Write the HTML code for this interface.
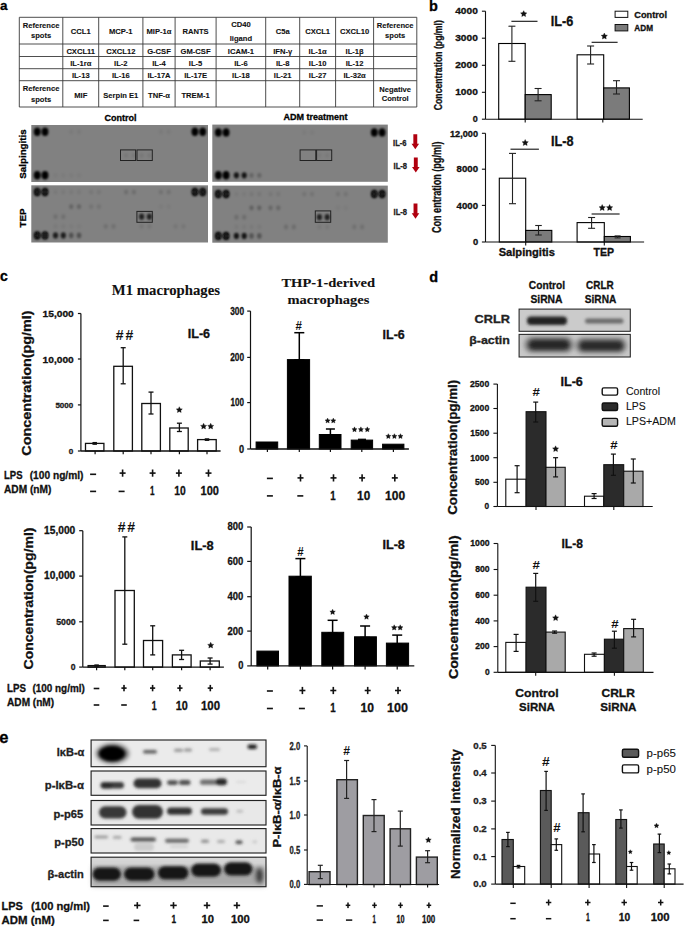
<!DOCTYPE html>
<html><head><meta charset="utf-8"><title>Figure</title>
<style>
html,body{margin:0;padding:0;background:#fff;}
body{width:685px;height:926px;overflow:hidden;}
svg{display:block;font-family:"Liberation Sans", sans-serif;}
</style></head>
<body>
<svg width="685" height="926" viewBox="0 0 685 926">
<defs>
<filter id="blur1" x="-50%" y="-50%" width="200%" height="200%"><feGaussianBlur stdDeviation="0.9"/></filter>
<filter id="blur2" x="-50%" y="-50%" width="200%" height="200%"><feGaussianBlur stdDeviation="2"/></filter>
<filter id="blur3" x="-50%" y="-50%" width="200%" height="200%"><feGaussianBlur stdDeviation="1.6"/></filter>
</defs>
<rect x="0" y="0" width="685" height="926" fill="#fff"/>
<text x="0.00" y="10.30" font-size="13.5" font-weight="bold" text-anchor="start" fill="#000" stroke="#000" stroke-width="0.3" >a</text>
<line x1="19.30" y1="17.30" x2="19.30" y2="107.00" stroke="#3a3a3a" stroke-width="0.9"/>
<line x1="62.80" y1="17.30" x2="62.80" y2="107.00" stroke="#3a3a3a" stroke-width="0.9"/>
<line x1="98.70" y1="17.30" x2="98.70" y2="107.00" stroke="#3a3a3a" stroke-width="0.9"/>
<line x1="142.90" y1="17.30" x2="142.90" y2="107.00" stroke="#3a3a3a" stroke-width="0.9"/>
<line x1="175.10" y1="17.30" x2="175.10" y2="107.00" stroke="#3a3a3a" stroke-width="0.9"/>
<line x1="216.10" y1="17.30" x2="216.10" y2="107.00" stroke="#3a3a3a" stroke-width="0.9"/>
<line x1="265.70" y1="17.30" x2="265.70" y2="107.00" stroke="#3a3a3a" stroke-width="0.9"/>
<line x1="299.70" y1="17.30" x2="299.70" y2="107.00" stroke="#3a3a3a" stroke-width="0.9"/>
<line x1="335.60" y1="17.30" x2="335.60" y2="107.00" stroke="#3a3a3a" stroke-width="0.9"/>
<line x1="373.60" y1="17.30" x2="373.60" y2="107.00" stroke="#3a3a3a" stroke-width="0.9"/>
<line x1="416.80" y1="17.30" x2="416.80" y2="107.00" stroke="#3a3a3a" stroke-width="0.9"/>
<line x1="19.30" y1="17.30" x2="416.80" y2="17.30" stroke="#3a3a3a" stroke-width="0.9"/>
<line x1="19.30" y1="44.00" x2="416.80" y2="44.00" stroke="#3a3a3a" stroke-width="0.9"/>
<line x1="19.30" y1="56.50" x2="416.80" y2="56.50" stroke="#3a3a3a" stroke-width="0.9"/>
<line x1="19.30" y1="68.70" x2="416.80" y2="68.70" stroke="#3a3a3a" stroke-width="0.9"/>
<line x1="19.30" y1="80.70" x2="416.80" y2="80.70" stroke="#3a3a3a" stroke-width="0.9"/>
<line x1="19.30" y1="107.00" x2="416.80" y2="107.00" stroke="#3a3a3a" stroke-width="0.9"/>
<text x="80.75" y="34.20" font-size="7.6" font-weight="bold" text-anchor="middle" fill="#111" stroke="#111" stroke-width="0.1" >CCL1</text>
<text x="120.80" y="34.20" font-size="7.6" font-weight="bold" text-anchor="middle" fill="#111" stroke="#111" stroke-width="0.1" >MCP-1</text>
<text x="159.00" y="34.20" font-size="7.6" font-weight="bold" text-anchor="middle" fill="#111" stroke="#111" stroke-width="0.1" >MIP-1α</text>
<text x="195.60" y="34.20" font-size="7.6" font-weight="bold" text-anchor="middle" fill="#111" stroke="#111" stroke-width="0.1" >RANTS</text>
<text x="282.70" y="34.20" font-size="7.6" font-weight="bold" text-anchor="middle" fill="#111" stroke="#111" stroke-width="0.1" >C5a</text>
<text x="317.65" y="34.20" font-size="7.6" font-weight="bold" text-anchor="middle" fill="#111" stroke="#111" stroke-width="0.1" >CXCL1</text>
<text x="354.60" y="34.20" font-size="7.6" font-weight="bold" text-anchor="middle" fill="#111" stroke="#111" stroke-width="0.1" >CXCL10</text>
<text x="80.75" y="53.70" font-size="7.6" font-weight="bold" text-anchor="middle" fill="#111" stroke="#111" stroke-width="0.1" >CXCL11</text>
<text x="120.80" y="53.70" font-size="7.6" font-weight="bold" text-anchor="middle" fill="#111" stroke="#111" stroke-width="0.1" >CXCL12</text>
<text x="159.00" y="53.70" font-size="7.6" font-weight="bold" text-anchor="middle" fill="#111" stroke="#111" stroke-width="0.1" >G-CSF</text>
<text x="195.60" y="53.70" font-size="7.6" font-weight="bold" text-anchor="middle" fill="#111" stroke="#111" stroke-width="0.1" >GM-CSF</text>
<text x="240.90" y="53.70" font-size="7.6" font-weight="bold" text-anchor="middle" fill="#111" stroke="#111" stroke-width="0.1" >ICAM-1</text>
<text x="282.70" y="53.70" font-size="7.6" font-weight="bold" text-anchor="middle" fill="#111" stroke="#111" stroke-width="0.1" >IFN-γ</text>
<text x="317.65" y="53.70" font-size="7.6" font-weight="bold" text-anchor="middle" fill="#111" stroke="#111" stroke-width="0.1" >IL-1α</text>
<text x="354.60" y="53.70" font-size="7.6" font-weight="bold" text-anchor="middle" fill="#111" stroke="#111" stroke-width="0.1" >IL-1β</text>
<text x="80.75" y="66.00" font-size="7.6" font-weight="bold" text-anchor="middle" fill="#111" stroke="#111" stroke-width="0.1" >IL-1rα</text>
<text x="120.80" y="66.00" font-size="7.6" font-weight="bold" text-anchor="middle" fill="#111" stroke="#111" stroke-width="0.1" >IL-2</text>
<text x="159.00" y="66.00" font-size="7.6" font-weight="bold" text-anchor="middle" fill="#111" stroke="#111" stroke-width="0.1" >IL-4</text>
<text x="195.60" y="66.00" font-size="7.6" font-weight="bold" text-anchor="middle" fill="#111" stroke="#111" stroke-width="0.1" >IL-5</text>
<text x="240.90" y="66.00" font-size="7.6" font-weight="bold" text-anchor="middle" fill="#111" stroke="#111" stroke-width="0.1" >IL-6</text>
<text x="282.70" y="66.00" font-size="7.6" font-weight="bold" text-anchor="middle" fill="#111" stroke="#111" stroke-width="0.1" >IL-8</text>
<text x="317.65" y="66.00" font-size="7.6" font-weight="bold" text-anchor="middle" fill="#111" stroke="#111" stroke-width="0.1" >IL-10</text>
<text x="354.60" y="66.00" font-size="7.6" font-weight="bold" text-anchor="middle" fill="#111" stroke="#111" stroke-width="0.1" >IL-12</text>
<text x="80.75" y="78.10" font-size="7.6" font-weight="bold" text-anchor="middle" fill="#111" stroke="#111" stroke-width="0.1" >IL-13</text>
<text x="120.80" y="78.10" font-size="7.6" font-weight="bold" text-anchor="middle" fill="#111" stroke="#111" stroke-width="0.1" >IL-16</text>
<text x="159.00" y="78.10" font-size="7.6" font-weight="bold" text-anchor="middle" fill="#111" stroke="#111" stroke-width="0.1" >IL-17A</text>
<text x="195.60" y="78.10" font-size="7.6" font-weight="bold" text-anchor="middle" fill="#111" stroke="#111" stroke-width="0.1" >IL-17E</text>
<text x="240.90" y="78.10" font-size="7.6" font-weight="bold" text-anchor="middle" fill="#111" stroke="#111" stroke-width="0.1" >IL-18</text>
<text x="282.70" y="78.10" font-size="7.6" font-weight="bold" text-anchor="middle" fill="#111" stroke="#111" stroke-width="0.1" >IL-21</text>
<text x="317.65" y="78.10" font-size="7.6" font-weight="bold" text-anchor="middle" fill="#111" stroke="#111" stroke-width="0.1" >IL-27</text>
<text x="354.60" y="78.10" font-size="7.6" font-weight="bold" text-anchor="middle" fill="#111" stroke="#111" stroke-width="0.1" >IL-32α</text>
<text x="80.75" y="97.60" font-size="7.6" font-weight="bold" text-anchor="middle" fill="#111" stroke="#111" stroke-width="0.1" >MIF</text>
<text x="120.80" y="97.60" font-size="7.6" font-weight="bold" text-anchor="middle" fill="#111" stroke="#111" stroke-width="0.1" >Serpin E1</text>
<text x="159.00" y="97.60" font-size="7.6" font-weight="bold" text-anchor="middle" fill="#111" stroke="#111" stroke-width="0.1" >TNF-α</text>
<text x="195.60" y="97.60" font-size="7.6" font-weight="bold" text-anchor="middle" fill="#111" stroke="#111" stroke-width="0.1" >TREM-1</text>
<text x="41.05" y="28.20" font-size="7.6" font-weight="bold" text-anchor="middle" fill="#111" stroke="#111" stroke-width="0.1" >Reference</text>
<text x="41.05" y="37.90" font-size="7.6" font-weight="bold" text-anchor="middle" fill="#111" stroke="#111" stroke-width="0.1" >spots</text>
<text x="395.20" y="27.90" font-size="7.6" font-weight="bold" text-anchor="middle" fill="#111" stroke="#111" stroke-width="0.1" >Reference</text>
<text x="395.20" y="37.90" font-size="7.6" font-weight="bold" text-anchor="middle" fill="#111" stroke="#111" stroke-width="0.1" >spots</text>
<text x="240.90" y="27.00" font-size="7.6" font-weight="bold" text-anchor="middle" fill="#111" stroke="#111" stroke-width="0.1" >CD40</text>
<text x="240.90" y="41.40" font-size="7.6" font-weight="bold" text-anchor="middle" fill="#111" stroke="#111" stroke-width="0.1" >ligand</text>
<text x="41.05" y="91.40" font-size="7.6" font-weight="bold" text-anchor="middle" fill="#111" stroke="#111" stroke-width="0.1" >Reference</text>
<text x="41.05" y="101.70" font-size="7.6" font-weight="bold" text-anchor="middle" fill="#111" stroke="#111" stroke-width="0.1" >spots</text>
<text x="395.20" y="92.00" font-size="7.6" font-weight="bold" text-anchor="middle" fill="#111" stroke="#111" stroke-width="0.1" >Negative</text>
<text x="395.20" y="101.40" font-size="7.6" font-weight="bold" text-anchor="middle" fill="#111" stroke="#111" stroke-width="0.1" >Control</text>
<text x="120.40" y="120.80" font-size="9" font-weight="bold" text-anchor="middle" fill="#000" stroke="#000" stroke-width="0.3" >Control</text>
<text x="315.50" y="120.00" font-size="9" font-weight="bold" text-anchor="middle" fill="#000" stroke="#000" stroke-width="0.3" >ADM treatment</text>
<text x="26.00" y="154.00" font-size="9.8" font-weight="bold" text-anchor="middle" fill="#000" stroke="#000" stroke-width="0.3" transform="rotate(-90 26.00 154.00)" >Salpingitis</text>
<text x="26.00" y="218.00" font-size="9.8" font-weight="bold" text-anchor="middle" fill="#000" stroke="#000" stroke-width="0.3" transform="rotate(-90 26.00 218.00)" >TEP</text>
<rect x="31.30" y="125.00" width="176.70" height="57.00" fill="#818181" stroke="none" stroke-width="0" />
<rect x="212.30" y="124.60" width="175.50" height="57.20" fill="#818181" stroke="none" stroke-width="0" />
<rect x="31.30" y="185.30" width="176.70" height="57.20" fill="#818181" stroke="none" stroke-width="0" />
<rect x="212.30" y="185.60" width="175.50" height="57.10" fill="#818181" stroke="none" stroke-width="0" />
<g filter="url(#blur1)">
<ellipse cx="37.20" cy="131.80" rx="3.40" ry="4.20" fill="#050505" fill-opacity="1.0"/>
<ellipse cx="45.00" cy="131.80" rx="3.40" ry="4.20" fill="#050505" fill-opacity="1.0"/>
<ellipse cx="194.90" cy="131.80" rx="3.40" ry="4.20" fill="#050505" fill-opacity="1.0"/>
<ellipse cx="202.70" cy="131.80" rx="3.40" ry="4.20" fill="#050505" fill-opacity="1.0"/>
<ellipse cx="37.20" cy="175.30" rx="3.40" ry="4.20" fill="#050505" fill-opacity="1.0"/>
<ellipse cx="45.00" cy="175.30" rx="3.40" ry="4.20" fill="#050505" fill-opacity="1.0"/>
<ellipse cx="71.20" cy="131.80" rx="2.20" ry="2.60" fill="#050505" fill-opacity="0.05"/>
<ellipse cx="79.00" cy="131.80" rx="2.20" ry="2.60" fill="#050505" fill-opacity="0.05"/>
<ellipse cx="160.90" cy="131.80" rx="2.20" ry="2.60" fill="#050505" fill-opacity="0.05"/>
<ellipse cx="168.70" cy="131.80" rx="2.20" ry="2.60" fill="#050505" fill-opacity="0.05"/>
<ellipse cx="55.50" cy="175.30" rx="2.20" ry="2.60" fill="#050505" fill-opacity="0.04"/>
<ellipse cx="63.30" cy="175.30" rx="2.20" ry="2.60" fill="#050505" fill-opacity="0.04"/>
<ellipse cx="71.20" cy="175.30" rx="2.20" ry="2.60" fill="#050505" fill-opacity="0.04"/>
<ellipse cx="79.00" cy="175.30" rx="2.20" ry="2.60" fill="#050505" fill-opacity="0.04"/>
<ellipse cx="126.10" cy="155.30" rx="2.20" ry="2.60" fill="#050505" fill-opacity="0.07"/>
<ellipse cx="133.90" cy="155.30" rx="2.20" ry="2.60" fill="#050505" fill-opacity="0.07"/>
<ellipse cx="141.60" cy="155.30" rx="2.20" ry="2.60" fill="#050505" fill-opacity="0.07"/>
<ellipse cx="149.40" cy="155.30" rx="2.20" ry="2.60" fill="#050505" fill-opacity="0.07"/>
<ellipse cx="218.30" cy="132.40" rx="3.40" ry="4.20" fill="#050505" fill-opacity="1.0"/>
<ellipse cx="226.10" cy="132.40" rx="3.40" ry="4.20" fill="#050505" fill-opacity="1.0"/>
<ellipse cx="374.30" cy="132.40" rx="3.40" ry="4.20" fill="#050505" fill-opacity="1.0"/>
<ellipse cx="382.10" cy="132.40" rx="3.40" ry="4.20" fill="#050505" fill-opacity="1.0"/>
<ellipse cx="218.30" cy="175.30" rx="3.40" ry="4.20" fill="#050505" fill-opacity="1.0"/>
<ellipse cx="226.10" cy="175.30" rx="3.40" ry="4.20" fill="#050505" fill-opacity="1.0"/>
<ellipse cx="236.40" cy="175.30" rx="2.60" ry="3.10" fill="#050505" fill-opacity="0.85"/>
<ellipse cx="244.20" cy="175.30" rx="2.60" ry="3.10" fill="#050505" fill-opacity="0.85"/>
<ellipse cx="251.50" cy="175.30" rx="2.20" ry="2.60" fill="#050505" fill-opacity="0.22"/>
<ellipse cx="259.30" cy="175.30" rx="2.20" ry="2.60" fill="#050505" fill-opacity="0.22"/>
<ellipse cx="319.40" cy="155.30" rx="2.20" ry="2.60" fill="#050505" fill-opacity="0.05"/>
<ellipse cx="327.20" cy="155.30" rx="2.20" ry="2.60" fill="#050505" fill-opacity="0.05"/>
<ellipse cx="304.30" cy="132.40" rx="2.20" ry="2.60" fill="#050505" fill-opacity="0.04"/>
<ellipse cx="312.10" cy="132.40" rx="2.20" ry="2.60" fill="#050505" fill-opacity="0.04"/>
<ellipse cx="37.20" cy="192.00" rx="3.40" ry="4.20" fill="#050505" fill-opacity="1.0"/>
<ellipse cx="37.20" cy="192.00" rx="1.20" ry="1.90" fill="#3a3a3a" fill-opacity="0.8"/>
<ellipse cx="45.00" cy="192.00" rx="3.40" ry="4.20" fill="#050505" fill-opacity="1.0"/>
<ellipse cx="45.00" cy="192.00" rx="1.20" ry="1.90" fill="#3a3a3a" fill-opacity="0.8"/>
<ellipse cx="194.90" cy="192.00" rx="3.40" ry="4.20" fill="#050505" fill-opacity="1.0"/>
<ellipse cx="194.90" cy="192.00" rx="1.20" ry="1.90" fill="#3a3a3a" fill-opacity="0.8"/>
<ellipse cx="202.70" cy="192.00" rx="3.40" ry="4.20" fill="#050505" fill-opacity="1.0"/>
<ellipse cx="202.70" cy="192.00" rx="1.20" ry="1.90" fill="#3a3a3a" fill-opacity="0.8"/>
<ellipse cx="37.20" cy="235.40" rx="3.40" ry="4.20" fill="#050505" fill-opacity="1.0"/>
<ellipse cx="37.20" cy="235.40" rx="1.20" ry="1.90" fill="#3a3a3a" fill-opacity="0.8"/>
<ellipse cx="45.00" cy="235.40" rx="3.40" ry="4.20" fill="#050505" fill-opacity="1.0"/>
<ellipse cx="45.00" cy="235.40" rx="1.20" ry="1.90" fill="#3a3a3a" fill-opacity="0.8"/>
<ellipse cx="55.50" cy="235.40" rx="2.60" ry="3.10" fill="#050505" fill-opacity="0.78"/>
<ellipse cx="63.30" cy="235.40" rx="2.60" ry="3.10" fill="#050505" fill-opacity="0.78"/>
<ellipse cx="71.20" cy="235.40" rx="2.30" ry="2.80" fill="#050505" fill-opacity="0.38"/>
<ellipse cx="79.00" cy="235.40" rx="2.30" ry="2.80" fill="#050505" fill-opacity="0.38"/>
<ellipse cx="55.50" cy="192.00" rx="2.20" ry="2.60" fill="#050505" fill-opacity="0.06"/>
<ellipse cx="63.30" cy="192.00" rx="2.20" ry="2.60" fill="#050505" fill-opacity="0.06"/>
<ellipse cx="71.20" cy="192.00" rx="2.20" ry="2.60" fill="#050505" fill-opacity="0.06"/>
<ellipse cx="79.00" cy="192.00" rx="2.20" ry="2.60" fill="#050505" fill-opacity="0.06"/>
<ellipse cx="91.10" cy="192.00" rx="2.20" ry="2.60" fill="#050505" fill-opacity="0.08"/>
<ellipse cx="98.90" cy="192.00" rx="2.20" ry="2.60" fill="#050505" fill-opacity="0.08"/>
<ellipse cx="126.10" cy="192.00" rx="2.20" ry="2.60" fill="#050505" fill-opacity="0.15"/>
<ellipse cx="133.90" cy="192.00" rx="2.20" ry="2.60" fill="#050505" fill-opacity="0.15"/>
<ellipse cx="160.90" cy="192.00" rx="2.20" ry="2.60" fill="#050505" fill-opacity="0.12"/>
<ellipse cx="168.70" cy="192.00" rx="2.20" ry="2.60" fill="#050505" fill-opacity="0.12"/>
<ellipse cx="71.20" cy="206.60" rx="2.20" ry="2.60" fill="#050505" fill-opacity="0.22"/>
<ellipse cx="79.00" cy="206.60" rx="2.20" ry="2.60" fill="#050505" fill-opacity="0.22"/>
<ellipse cx="91.10" cy="206.60" rx="2.20" ry="2.60" fill="#050505" fill-opacity="0.1"/>
<ellipse cx="98.90" cy="206.60" rx="2.20" ry="2.60" fill="#050505" fill-opacity="0.1"/>
<ellipse cx="160.90" cy="206.60" rx="2.20" ry="2.60" fill="#050505" fill-opacity="0.04"/>
<ellipse cx="168.70" cy="206.60" rx="2.20" ry="2.60" fill="#050505" fill-opacity="0.04"/>
<ellipse cx="55.50" cy="216.70" rx="2.20" ry="2.60" fill="#050505" fill-opacity="0.13"/>
<ellipse cx="63.30" cy="216.70" rx="2.20" ry="2.60" fill="#050505" fill-opacity="0.13"/>
<ellipse cx="141.60" cy="216.70" rx="2.60" ry="3.10" fill="#050505" fill-opacity="0.75"/>
<ellipse cx="149.40" cy="216.70" rx="2.60" ry="3.10" fill="#050505" fill-opacity="0.75"/>
<ellipse cx="55.50" cy="226.30" rx="2.20" ry="2.60" fill="#050505" fill-opacity="0.05"/>
<ellipse cx="63.30" cy="226.30" rx="2.20" ry="2.60" fill="#050505" fill-opacity="0.05"/>
<ellipse cx="71.20" cy="226.30" rx="2.20" ry="2.60" fill="#050505" fill-opacity="0.04"/>
<ellipse cx="79.00" cy="226.30" rx="2.20" ry="2.60" fill="#050505" fill-opacity="0.04"/>
<ellipse cx="105.70" cy="226.30" rx="2.20" ry="2.60" fill="#050505" fill-opacity="0.12"/>
<ellipse cx="113.50" cy="226.30" rx="2.20" ry="2.60" fill="#050505" fill-opacity="0.12"/>
<ellipse cx="141.60" cy="226.30" rx="2.20" ry="2.60" fill="#050505" fill-opacity="0.08"/>
<ellipse cx="149.40" cy="226.30" rx="2.20" ry="2.60" fill="#050505" fill-opacity="0.08"/>
<ellipse cx="175.60" cy="226.30" rx="2.20" ry="2.60" fill="#050505" fill-opacity="0.08"/>
<ellipse cx="183.40" cy="226.30" rx="2.20" ry="2.60" fill="#050505" fill-opacity="0.08"/>
<ellipse cx="218.30" cy="194.00" rx="3.40" ry="4.20" fill="#050505" fill-opacity="1.0"/>
<ellipse cx="218.30" cy="194.00" rx="1.20" ry="1.90" fill="#3a3a3a" fill-opacity="0.8"/>
<ellipse cx="226.10" cy="194.00" rx="3.40" ry="4.20" fill="#050505" fill-opacity="1.0"/>
<ellipse cx="226.10" cy="194.00" rx="1.20" ry="1.90" fill="#3a3a3a" fill-opacity="0.8"/>
<ellipse cx="374.30" cy="194.00" rx="3.40" ry="4.20" fill="#050505" fill-opacity="1.0"/>
<ellipse cx="374.30" cy="194.00" rx="1.20" ry="1.90" fill="#3a3a3a" fill-opacity="0.8"/>
<ellipse cx="382.10" cy="194.00" rx="3.40" ry="4.20" fill="#050505" fill-opacity="1.0"/>
<ellipse cx="382.10" cy="194.00" rx="1.20" ry="1.90" fill="#3a3a3a" fill-opacity="0.8"/>
<ellipse cx="218.30" cy="235.90" rx="3.40" ry="4.20" fill="#050505" fill-opacity="1.0"/>
<ellipse cx="218.30" cy="235.90" rx="1.20" ry="1.90" fill="#3a3a3a" fill-opacity="0.8"/>
<ellipse cx="226.10" cy="235.90" rx="3.40" ry="4.20" fill="#050505" fill-opacity="1.0"/>
<ellipse cx="226.10" cy="235.90" rx="1.20" ry="1.90" fill="#3a3a3a" fill-opacity="0.8"/>
<ellipse cx="236.40" cy="235.90" rx="2.60" ry="3.10" fill="#050505" fill-opacity="0.85"/>
<ellipse cx="244.20" cy="235.90" rx="2.60" ry="3.10" fill="#050505" fill-opacity="0.85"/>
<ellipse cx="251.50" cy="235.90" rx="2.30" ry="2.80" fill="#050505" fill-opacity="0.35"/>
<ellipse cx="259.30" cy="235.90" rx="2.30" ry="2.80" fill="#050505" fill-opacity="0.35"/>
<ellipse cx="236.40" cy="194.00" rx="2.20" ry="2.60" fill="#050505" fill-opacity="0.05"/>
<ellipse cx="244.20" cy="194.00" rx="2.20" ry="2.60" fill="#050505" fill-opacity="0.05"/>
<ellipse cx="251.50" cy="194.00" rx="2.20" ry="2.60" fill="#050505" fill-opacity="0.08"/>
<ellipse cx="259.30" cy="194.00" rx="2.20" ry="2.60" fill="#050505" fill-opacity="0.08"/>
<ellipse cx="270.50" cy="194.00" rx="2.20" ry="2.60" fill="#050505" fill-opacity="0.08"/>
<ellipse cx="278.30" cy="194.00" rx="2.20" ry="2.60" fill="#050505" fill-opacity="0.08"/>
<ellipse cx="304.30" cy="194.00" rx="2.20" ry="2.60" fill="#050505" fill-opacity="0.1"/>
<ellipse cx="312.10" cy="194.00" rx="2.20" ry="2.60" fill="#050505" fill-opacity="0.1"/>
<ellipse cx="338.00" cy="194.00" rx="2.20" ry="2.60" fill="#050505" fill-opacity="0.1"/>
<ellipse cx="345.80" cy="194.00" rx="2.20" ry="2.60" fill="#050505" fill-opacity="0.1"/>
<ellipse cx="251.50" cy="207.80" rx="2.20" ry="2.60" fill="#050505" fill-opacity="0.25"/>
<ellipse cx="259.30" cy="207.80" rx="2.20" ry="2.60" fill="#050505" fill-opacity="0.25"/>
<ellipse cx="270.50" cy="207.80" rx="2.20" ry="2.60" fill="#050505" fill-opacity="0.2"/>
<ellipse cx="278.30" cy="207.80" rx="2.20" ry="2.60" fill="#050505" fill-opacity="0.2"/>
<ellipse cx="338.00" cy="207.80" rx="2.20" ry="2.60" fill="#050505" fill-opacity="0.04"/>
<ellipse cx="345.80" cy="207.80" rx="2.20" ry="2.60" fill="#050505" fill-opacity="0.04"/>
<ellipse cx="236.40" cy="217.20" rx="2.20" ry="2.60" fill="#050505" fill-opacity="0.15"/>
<ellipse cx="244.20" cy="217.20" rx="2.20" ry="2.60" fill="#050505" fill-opacity="0.15"/>
<ellipse cx="319.40" cy="217.20" rx="2.60" ry="3.10" fill="#050505" fill-opacity="0.75"/>
<ellipse cx="327.20" cy="217.20" rx="2.60" ry="3.10" fill="#050505" fill-opacity="0.75"/>
<ellipse cx="236.40" cy="226.90" rx="2.20" ry="2.60" fill="#050505" fill-opacity="0.05"/>
<ellipse cx="244.20" cy="226.90" rx="2.20" ry="2.60" fill="#050505" fill-opacity="0.05"/>
<ellipse cx="251.50" cy="226.90" rx="2.20" ry="2.60" fill="#050505" fill-opacity="0.05"/>
<ellipse cx="259.30" cy="226.90" rx="2.20" ry="2.60" fill="#050505" fill-opacity="0.05"/>
<ellipse cx="286.00" cy="226.90" rx="2.20" ry="2.60" fill="#050505" fill-opacity="0.15"/>
<ellipse cx="293.80" cy="226.90" rx="2.20" ry="2.60" fill="#050505" fill-opacity="0.15"/>
<ellipse cx="319.40" cy="226.90" rx="2.20" ry="2.60" fill="#050505" fill-opacity="0.06"/>
<ellipse cx="327.20" cy="226.90" rx="2.20" ry="2.60" fill="#050505" fill-opacity="0.06"/>
<ellipse cx="354.30" cy="226.90" rx="2.20" ry="2.60" fill="#050505" fill-opacity="0.12"/>
<ellipse cx="362.10" cy="226.90" rx="2.20" ry="2.60" fill="#050505" fill-opacity="0.12"/>
</g>
<rect x="120.50" y="149.90" width="15.10" height="10.60" fill="none" stroke="#222" stroke-width="1" />
<rect x="137.00" y="149.90" width="15.30" height="10.60" fill="none" stroke="#222" stroke-width="1" />
<rect x="300.10" y="149.90" width="15.70" height="10.60" fill="none" stroke="#222" stroke-width="1" />
<rect x="316.60" y="149.90" width="15.10" height="10.60" fill="none" stroke="#222" stroke-width="1" />
<rect x="136.90" y="211.40" width="15.40" height="10.90" fill="none" stroke="#222" stroke-width="1" />
<rect x="315.30" y="210.90" width="15.40" height="11.40" fill="none" stroke="#222" stroke-width="1" />
<text x="393.10" y="145.50" font-size="8.2" font-weight="bold" text-anchor="start" fill="#222" stroke="#222" stroke-width="0.3" textLength="13.50" lengthAdjust="spacingAndGlyphs" >IL-6</text>
<text x="393.60" y="168.70" font-size="8.2" font-weight="bold" text-anchor="start" fill="#222" stroke="#222" stroke-width="0.3" textLength="13.50" lengthAdjust="spacingAndGlyphs" >IL-8</text>
<text x="393.60" y="214.60" font-size="8.2" font-weight="bold" text-anchor="start" fill="#222" stroke="#222" stroke-width="0.3" textLength="13.50" lengthAdjust="spacingAndGlyphs" >IL-8</text>
<path d="M413.35,134.20 L417.25,134.20 L417.25,143.80 L419.10,143.80 L415.30,149.30 L411.50,143.80 L413.35,143.80 Z" fill="#b0000f"/>
<path d="M413.85,157.40 L417.75,157.40 L417.75,167.00 L419.60,167.00 L415.80,172.50 L412.00,167.00 L413.85,167.00 Z" fill="#b0000f"/>
<path d="M413.55,203.60 L417.45,203.60 L417.45,213.20 L419.30,213.20 L415.50,218.70 L411.70,213.20 L413.55,213.20 Z" fill="#b0000f"/>
<text x="429.00" y="11.00" font-size="14.5" font-weight="bold" text-anchor="start" fill="#000" stroke="#000" stroke-width="0.3" >b</text>
<line x1="485.50" y1="11.20" x2="485.50" y2="119.20" stroke="#111" stroke-width="1.1"/>
<line x1="481.90" y1="11.20" x2="485.50" y2="11.20" stroke="#111" stroke-width="1.1"/>
<text x="455.20" y="14.30" font-size="8.6" font-weight="bold" text-anchor="start" fill="#111" stroke="#111" stroke-width="0.3" textLength="22.60" lengthAdjust="spacingAndGlyphs" >4000</text>
<line x1="481.90" y1="38.20" x2="485.50" y2="38.20" stroke="#111" stroke-width="1.1"/>
<text x="455.20" y="41.30" font-size="8.6" font-weight="bold" text-anchor="start" fill="#111" stroke="#111" stroke-width="0.3" textLength="22.60" lengthAdjust="spacingAndGlyphs" >3000</text>
<line x1="481.90" y1="65.30" x2="485.50" y2="65.30" stroke="#111" stroke-width="1.1"/>
<text x="455.20" y="68.40" font-size="8.6" font-weight="bold" text-anchor="start" fill="#111" stroke="#111" stroke-width="0.3" textLength="22.60" lengthAdjust="spacingAndGlyphs" >2000</text>
<line x1="481.90" y1="92.30" x2="485.50" y2="92.30" stroke="#111" stroke-width="1.1"/>
<text x="455.20" y="95.40" font-size="8.6" font-weight="bold" text-anchor="start" fill="#111" stroke="#111" stroke-width="0.3" textLength="22.60" lengthAdjust="spacingAndGlyphs" >1000</text>
<line x1="481.90" y1="119.20" x2="485.50" y2="119.20" stroke="#111" stroke-width="1.1"/>
<text x="472.80" y="122.30" font-size="8.6" font-weight="bold" text-anchor="start" fill="#111" stroke="#111" stroke-width="0.3" textLength="5.00" lengthAdjust="spacingAndGlyphs" >0</text>
<rect x="498.70" y="43.50" width="26.50" height="75.70" fill="#fff" stroke="#000" stroke-width="1.1" />
<rect x="525.20" y="94.60" width="26.00" height="24.60" fill="#7b7b7b" stroke="#000" stroke-width="1.1" />
<rect x="577.10" y="54.80" width="26.60" height="64.40" fill="#fff" stroke="#000" stroke-width="1.1" />
<rect x="603.70" y="87.90" width="25.70" height="31.30" fill="#7b7b7b" stroke="#000" stroke-width="1.1" />
<line x1="511.90" y1="26.20" x2="511.90" y2="61.30" stroke="#222" stroke-width="1.1"/>
<line x1="508.40" y1="26.20" x2="515.40" y2="26.20" stroke="#222" stroke-width="1.1"/>
<line x1="508.40" y1="61.30" x2="515.40" y2="61.30" stroke="#222" stroke-width="1.1"/>
<line x1="538.10" y1="88.50" x2="538.10" y2="100.80" stroke="#222" stroke-width="1.1"/>
<line x1="534.60" y1="88.50" x2="541.60" y2="88.50" stroke="#222" stroke-width="1.1"/>
<line x1="534.60" y1="100.80" x2="541.60" y2="100.80" stroke="#222" stroke-width="1.1"/>
<line x1="590.60" y1="46.00" x2="590.60" y2="64.00" stroke="#222" stroke-width="1.1"/>
<line x1="587.10" y1="46.00" x2="594.10" y2="46.00" stroke="#222" stroke-width="1.1"/>
<line x1="587.10" y1="64.00" x2="594.10" y2="64.00" stroke="#222" stroke-width="1.1"/>
<line x1="616.50" y1="80.70" x2="616.50" y2="94.00" stroke="#222" stroke-width="1.1"/>
<line x1="613.00" y1="80.70" x2="620.00" y2="80.70" stroke="#222" stroke-width="1.1"/>
<line x1="613.00" y1="94.00" x2="620.00" y2="94.00" stroke="#222" stroke-width="1.1"/>
<line x1="485.50" y1="119.20" x2="642.70" y2="119.20" stroke="#111" stroke-width="1.1"/>
<line x1="525.20" y1="119.20" x2="525.20" y2="122.60" stroke="#111" stroke-width="1.1"/>
<line x1="602.80" y1="119.20" x2="602.80" y2="122.60" stroke="#111" stroke-width="1.1"/>
<line x1="511.40" y1="21.30" x2="537.50" y2="21.30" stroke="#111" stroke-width="1.1"/>
<line x1="591.60" y1="42.30" x2="617.60" y2="42.30" stroke="#111" stroke-width="1.1"/>
<polygon points="523.70,10.63 524.67,12.60 526.84,12.91 525.27,14.44 525.64,16.60 523.70,15.58 521.76,16.60 522.13,14.44 520.56,12.91 522.73,12.60" fill="#111" stroke="#111" stroke-width="0.35" stroke-linejoin="round"/>
<polygon points="604.30,33.03 605.27,35.00 607.44,35.31 605.87,36.84 606.24,39.00 604.30,37.98 602.36,39.00 602.73,36.84 601.16,35.31 603.33,35.00" fill="#111" stroke="#111" stroke-width="0.35" stroke-linejoin="round"/>
<text x="550.70" y="26.20" font-size="14" font-weight="bold" text-anchor="start" fill="#111" stroke="#111" stroke-width="0.3" textLength="22.50" lengthAdjust="spacingAndGlyphs" >IL-6</text>
<rect x="615.10" y="11.20" width="12.70" height="6.20" fill="#fff" stroke="#111" stroke-width="1" />
<rect x="615.10" y="24.50" width="12.70" height="6.40" fill="#7b7b7b" stroke="#111" stroke-width="1" />
<text x="634.30" y="17.70" font-size="8.8" font-weight="bold" text-anchor="start" fill="#111" stroke="#111" stroke-width="0.3" textLength="32.70" lengthAdjust="spacingAndGlyphs" >Control</text>
<text x="634.30" y="31.00" font-size="8.8" font-weight="bold" text-anchor="start" fill="#111" stroke="#111" stroke-width="0.3" textLength="18.70" lengthAdjust="spacingAndGlyphs" >ADM</text>
<text x="442.20" y="110.20" font-size="11.0" font-weight="bold" text-anchor="start" fill="#111" stroke="#111" stroke-width="0.3" textLength="90.10" lengthAdjust="spacingAndGlyphs" transform="rotate(-90 442.20 110.20)" >Concentration (pg/ml)</text>
<line x1="485.50" y1="133.30" x2="485.50" y2="242.00" stroke="#111" stroke-width="1.1"/>
<line x1="481.90" y1="133.30" x2="485.50" y2="133.30" stroke="#111" stroke-width="1.1"/>
<line x1="481.90" y1="169.20" x2="485.50" y2="169.20" stroke="#111" stroke-width="1.1"/>
<line x1="481.90" y1="205.40" x2="485.50" y2="205.40" stroke="#111" stroke-width="1.1"/>
<line x1="481.90" y1="242.00" x2="485.50" y2="242.00" stroke="#111" stroke-width="1.1"/>
<text x="450.00" y="136.60" font-size="8.6" font-weight="bold" text-anchor="start" fill="#111" stroke="#111" stroke-width="0.3" textLength="28.00" lengthAdjust="spacingAndGlyphs" >12,000</text>
<text x="456.60" y="172.30" font-size="8.2" font-weight="bold" text-anchor="start" fill="#111" stroke="#111" stroke-width="0.3" textLength="21.40" lengthAdjust="spacingAndGlyphs" >8000</text>
<text x="456.60" y="208.50" font-size="8.2" font-weight="bold" text-anchor="start" fill="#111" stroke="#111" stroke-width="0.3" textLength="21.40" lengthAdjust="spacingAndGlyphs" >4000</text>
<text x="473.00" y="245.00" font-size="8.2" font-weight="bold" text-anchor="start" fill="#111" stroke="#111" stroke-width="0.3" textLength="5.20" lengthAdjust="spacingAndGlyphs" >0</text>
<rect x="499.30" y="178.20" width="26.40" height="63.80" fill="#fff" stroke="#000" stroke-width="1.1" />
<rect x="525.70" y="230.40" width="26.10" height="11.60" fill="#7b7b7b" stroke="#000" stroke-width="1.1" />
<rect x="577.10" y="222.60" width="27.20" height="19.40" fill="#fff" stroke="#000" stroke-width="1.1" />
<rect x="604.30" y="236.50" width="26.10" height="5.50" fill="#7b7b7b" stroke="#000" stroke-width="1.1" />
<line x1="512.50" y1="153.40" x2="512.50" y2="203.70" stroke="#222" stroke-width="1.1"/>
<line x1="509.00" y1="153.40" x2="516.00" y2="153.40" stroke="#222" stroke-width="1.1"/>
<line x1="509.00" y1="203.70" x2="516.00" y2="203.70" stroke="#222" stroke-width="1.1"/>
<line x1="538.50" y1="225.50" x2="538.50" y2="235.00" stroke="#222" stroke-width="1.1"/>
<line x1="535.20" y1="225.50" x2="541.80" y2="225.50" stroke="#222" stroke-width="1.1"/>
<line x1="535.20" y1="235.00" x2="541.80" y2="235.00" stroke="#222" stroke-width="1.1"/>
<line x1="591.60" y1="217.50" x2="591.60" y2="228.30" stroke="#222" stroke-width="1.1"/>
<line x1="588.10" y1="217.50" x2="595.10" y2="217.50" stroke="#222" stroke-width="1.1"/>
<line x1="588.10" y1="228.30" x2="595.10" y2="228.30" stroke="#222" stroke-width="1.1"/>
<line x1="617.60" y1="235.90" x2="617.60" y2="237.90" stroke="#222" stroke-width="1.1"/>
<line x1="614.60" y1="235.90" x2="620.60" y2="235.90" stroke="#222" stroke-width="1.1"/>
<line x1="614.60" y1="237.90" x2="620.60" y2="237.90" stroke="#222" stroke-width="1.1"/>
<line x1="485.50" y1="242.00" x2="644.10" y2="242.00" stroke="#111" stroke-width="1.1"/>
<line x1="525.70" y1="242.00" x2="525.70" y2="245.40" stroke="#111" stroke-width="1.1"/>
<line x1="604.30" y1="242.00" x2="604.30" y2="245.40" stroke="#111" stroke-width="1.1"/>
<line x1="510.50" y1="149.20" x2="538.90" y2="149.20" stroke="#111" stroke-width="1.1"/>
<line x1="591.60" y1="214.00" x2="619.60" y2="214.00" stroke="#111" stroke-width="1.1"/>
<polygon points="525.20,139.53 526.17,141.50 528.34,141.81 526.77,143.34 527.14,145.50 525.20,144.48 523.26,145.50 523.63,143.34 522.06,141.81 524.23,141.50" fill="#111" stroke="#111" stroke-width="0.35" stroke-linejoin="round"/>
<polygon points="602.19,204.53 603.16,206.50 605.33,206.81 603.76,208.34 604.13,210.50 602.19,209.48 600.25,210.50 600.62,208.34 599.05,206.81 601.22,206.50" fill="#111" stroke="#111" stroke-width="0.35" stroke-linejoin="round"/>
<polygon points="609.61,204.53 610.58,206.50 612.75,206.81 611.18,208.34 611.55,210.50 609.61,209.48 607.67,210.50 608.04,208.34 606.47,206.81 608.64,206.50" fill="#111" stroke="#111" stroke-width="0.35" stroke-linejoin="round"/>
<text x="551.10" y="145.50" font-size="14" font-weight="bold" text-anchor="start" fill="#111" stroke="#111" stroke-width="0.3" textLength="22.50" lengthAdjust="spacingAndGlyphs" >IL-8</text>
<text x="498.70" y="256.30" font-size="10" font-weight="bold" text-anchor="start" fill="#111" stroke="#111" stroke-width="0.3" textLength="56.20" lengthAdjust="spacingAndGlyphs" >Salpingitis</text>
<text x="593.60" y="256.30" font-size="10" font-weight="bold" text-anchor="start" fill="#111" stroke="#111" stroke-width="0.3" textLength="20.50" lengthAdjust="spacingAndGlyphs" >TEP</text>
<text x="440.60" y="233.00" font-size="12.0" font-weight="bold" text-anchor="start" fill="#111" stroke="#111" stroke-width="0.3" textLength="91.50" lengthAdjust="spacingAndGlyphs" transform="rotate(-90 440.60 233.00)" >Con  entration (pg/ml)</text>
<text x="0.00" y="281.30" font-size="14" font-weight="bold" text-anchor="start" fill="#000" stroke="#000" stroke-width="0.3" >c</text>
<text x="111.80" y="294.80" font-size="14.5" font-weight="bold" text-anchor="start" fill="#111" stroke="#111" stroke-width="0.1" font-family='"Liberation Serif", serif' textLength="108.20" lengthAdjust="spacingAndGlyphs" >M1 macrophages</text>
<text x="31.40" y="455.70" font-size="12.6" font-weight="bold" text-anchor="start" fill="#111" stroke="#111" stroke-width="0.3" textLength="145.30" lengthAdjust="spacingAndGlyphs" transform="rotate(-90 31.40 455.70)" >Concentration(pg/ml)</text>
<line x1="80.90" y1="313.50" x2="80.90" y2="451.00" stroke="#111" stroke-width="1.2"/>
<line x1="77.90" y1="313.50" x2="80.90" y2="313.50" stroke="#111" stroke-width="1.2"/>
<line x1="77.90" y1="359.00" x2="80.90" y2="359.00" stroke="#111" stroke-width="1.2"/>
<line x1="77.90" y1="404.90" x2="80.90" y2="404.90" stroke="#111" stroke-width="1.2"/>
<line x1="77.90" y1="451.00" x2="80.90" y2="451.00" stroke="#111" stroke-width="1.2"/>
<text x="42.60" y="316.80" font-size="9.6" font-weight="bold" text-anchor="start" fill="#111" stroke="#111" stroke-width="0.3" textLength="31.20" lengthAdjust="spacingAndGlyphs" >15,000</text>
<text x="42.60" y="362.60" font-size="9.6" font-weight="bold" text-anchor="start" fill="#111" stroke="#111" stroke-width="0.3" textLength="31.20" lengthAdjust="spacingAndGlyphs" >10,000</text>
<text x="55.40" y="407.90" font-size="8.0" font-weight="bold" text-anchor="start" fill="#1a1a1a" stroke="#1a1a1a" stroke-width="0.3" textLength="17.80" lengthAdjust="spacingAndGlyphs" >5000</text>
<text x="68.70" y="453.90" font-size="8.0" font-weight="bold" text-anchor="start" fill="#1a1a1a" stroke="#1a1a1a" stroke-width="0.3" textLength="4.50" lengthAdjust="spacingAndGlyphs" >0</text>
<rect x="85.50" y="443.40" width="18.40" height="7.60" fill="#fff" stroke="#111" stroke-width="1.3" />
<rect x="113.80" y="366.30" width="18.60" height="84.70" fill="#fff" stroke="#111" stroke-width="1.3" />
<rect x="141.80" y="403.50" width="18.60" height="47.50" fill="#fff" stroke="#111" stroke-width="1.3" />
<rect x="169.80" y="428.00" width="18.40" height="23.00" fill="#fff" stroke="#111" stroke-width="1.3" />
<rect x="197.60" y="439.60" width="18.60" height="11.40" fill="#fff" stroke="#111" stroke-width="1.3" />
<line x1="94.70" y1="442.60" x2="94.70" y2="444.20" stroke="#111" stroke-width="1.3"/>
<line x1="92.45" y1="442.60" x2="96.95" y2="442.60" stroke="#111" stroke-width="1.3"/>
<line x1="92.45" y1="444.20" x2="96.95" y2="444.20" stroke="#111" stroke-width="1.3"/>
<line x1="123.20" y1="347.70" x2="123.20" y2="383.80" stroke="#111" stroke-width="1.3"/>
<line x1="120.70" y1="347.70" x2="125.70" y2="347.70" stroke="#111" stroke-width="1.3"/>
<line x1="120.70" y1="383.80" x2="125.70" y2="383.80" stroke="#111" stroke-width="1.3"/>
<line x1="151.00" y1="392.10" x2="151.00" y2="414.00" stroke="#111" stroke-width="1.3"/>
<line x1="148.50" y1="392.10" x2="153.50" y2="392.10" stroke="#111" stroke-width="1.3"/>
<line x1="148.50" y1="414.00" x2="153.50" y2="414.00" stroke="#111" stroke-width="1.3"/>
<line x1="179.40" y1="423.20" x2="179.40" y2="431.50" stroke="#111" stroke-width="1.3"/>
<line x1="176.90" y1="423.20" x2="181.90" y2="423.20" stroke="#111" stroke-width="1.3"/>
<line x1="176.90" y1="431.50" x2="181.90" y2="431.50" stroke="#111" stroke-width="1.3"/>
<line x1="207.00" y1="438.90" x2="207.00" y2="440.30" stroke="#111" stroke-width="1.3"/>
<line x1="204.75" y1="438.90" x2="209.25" y2="438.90" stroke="#111" stroke-width="1.3"/>
<line x1="204.75" y1="440.30" x2="209.25" y2="440.30" stroke="#111" stroke-width="1.3"/>
<line x1="80.90" y1="451.00" x2="220.60" y2="451.00" stroke="#111" stroke-width="1.3"/>
<line x1="95.10" y1="451.00" x2="95.10" y2="454.20" stroke="#111" stroke-width="1.2"/>
<line x1="123.20" y1="451.00" x2="123.20" y2="454.20" stroke="#111" stroke-width="1.2"/>
<line x1="151.00" y1="451.00" x2="151.00" y2="454.20" stroke="#111" stroke-width="1.2"/>
<line x1="179.40" y1="451.00" x2="179.40" y2="454.20" stroke="#111" stroke-width="1.2"/>
<line x1="207.00" y1="451.00" x2="207.00" y2="454.20" stroke="#111" stroke-width="1.2"/>
<text x="115.70" y="340.00" font-size="14.705882352941176" font-weight="bold" text-anchor="start" fill="#111" textLength="7.80" lengthAdjust="spacingAndGlyphs" >#</text>
<text x="125.40" y="340.00" font-size="14.705882352941176" font-weight="bold" text-anchor="start" fill="#111" textLength="7.80" lengthAdjust="spacingAndGlyphs" >#</text>
<polygon points="179.30,406.72 180.24,408.63 182.34,408.93 180.82,410.41 181.18,412.51 179.30,411.52 177.42,412.51 177.78,410.41 176.26,408.93 178.36,408.63" fill="#111" stroke="#111" stroke-width="0.35" stroke-linejoin="round"/>
<polygon points="203.60,423.22 204.54,425.13 206.64,425.43 205.12,426.91 205.48,429.01 203.60,428.02 201.72,429.01 202.08,426.91 200.56,425.43 202.66,425.13" fill="#111" stroke="#111" stroke-width="0.35" stroke-linejoin="round"/>
<polygon points="210.70,423.22 211.64,425.13 213.74,425.43 212.22,426.91 212.58,429.01 210.70,428.02 208.82,429.01 209.18,426.91 207.66,425.43 209.76,425.13" fill="#111" stroke="#111" stroke-width="0.35" stroke-linejoin="round"/>
<text x="187.70" y="338.10" font-size="13.2" font-weight="bold" text-anchor="start" fill="#111" stroke="#111" stroke-width="0.3" textLength="22.40" lengthAdjust="spacingAndGlyphs" >IL-6</text>
<text x="4.00" y="478.90" font-size="11.3" font-weight="bold" text-anchor="start" fill="#111" stroke="#111" stroke-width="0.3" textLength="18.50" lengthAdjust="spacingAndGlyphs" >LPS</text>
<text x="29.70" y="478.90" font-size="11.3" font-weight="bold" text-anchor="start" fill="#111" stroke="#111" stroke-width="0.3" textLength="53.80" lengthAdjust="spacingAndGlyphs" >(100 ng/ml)</text>
<text x="4.00" y="493.30" font-size="11.3" font-weight="bold" text-anchor="start" fill="#111" stroke="#111" stroke-width="0.3" textLength="47.40" lengthAdjust="spacingAndGlyphs" >ADM (nM)</text>
<rect x="90.10" y="473.50" width="6.00" height="1.60" fill="#111" stroke="none" stroke-width="0" />
<rect x="119.60" y="472.30" width="6.00" height="1.60" fill="#111" stroke="none" stroke-width="0" />
<rect x="121.80" y="469.50" width="1.60" height="7.20" fill="#111" stroke="none" stroke-width="0" />
<rect x="149.60" y="472.30" width="6.00" height="1.60" fill="#111" stroke="none" stroke-width="0" />
<rect x="151.80" y="469.50" width="1.60" height="7.20" fill="#111" stroke="none" stroke-width="0" />
<rect x="175.90" y="472.30" width="6.00" height="1.60" fill="#111" stroke="none" stroke-width="0" />
<rect x="178.10" y="469.50" width="1.60" height="7.20" fill="#111" stroke="none" stroke-width="0" />
<rect x="205.50" y="472.30" width="6.00" height="1.60" fill="#111" stroke="none" stroke-width="0" />
<rect x="207.70" y="469.50" width="1.60" height="7.20" fill="#111" stroke="none" stroke-width="0" />
<rect x="90.10" y="490.60" width="6.00" height="1.60" fill="#111" stroke="none" stroke-width="0" />
<rect x="118.60" y="490.60" width="6.00" height="1.60" fill="#111" stroke="none" stroke-width="0" />
<text x="150.00" y="495.10" font-size="13.4" font-weight="bold" text-anchor="start" fill="#111" stroke="#111" stroke-width="0.3" textLength="4.50" lengthAdjust="spacingAndGlyphs" >1</text>
<text x="174.30" y="495.10" font-size="13.4" font-weight="bold" text-anchor="start" fill="#111" stroke="#111" stroke-width="0.3" textLength="11.50" lengthAdjust="spacingAndGlyphs" >10</text>
<text x="200.50" y="495.10" font-size="13.4" font-weight="bold" text-anchor="start" fill="#111" stroke="#111" stroke-width="0.3" textLength="18.40" lengthAdjust="spacingAndGlyphs" >100</text>
<text x="281.40" y="286.90" font-size="13.5" font-weight="bold" text-anchor="start" fill="#111" stroke="#111" stroke-width="0.1" font-family='"Liberation Serif", serif' textLength="93.70" lengthAdjust="spacingAndGlyphs" >THP-1-derived</text>
<text x="287.50" y="304.40" font-size="13.5" font-weight="bold" text-anchor="start" fill="#111" stroke="#111" stroke-width="0.1" font-family='"Liberation Serif", serif' textLength="81.80" lengthAdjust="spacingAndGlyphs" >macrophages</text>
<line x1="250.50" y1="311.10" x2="250.50" y2="449.00" stroke="#111" stroke-width="1.2"/>
<line x1="247.20" y1="311.10" x2="250.50" y2="311.10" stroke="#111" stroke-width="1.2"/>
<text x="230.20" y="314.60" font-size="10.8" font-weight="bold" text-anchor="start" fill="#111" stroke="#111" stroke-width="0.3" textLength="13.90" lengthAdjust="spacingAndGlyphs" >300</text>
<line x1="247.20" y1="357.40" x2="250.50" y2="357.40" stroke="#111" stroke-width="1.2"/>
<text x="230.20" y="360.90" font-size="10.8" font-weight="bold" text-anchor="start" fill="#111" stroke="#111" stroke-width="0.3" textLength="13.90" lengthAdjust="spacingAndGlyphs" >200</text>
<line x1="247.20" y1="402.60" x2="250.50" y2="402.60" stroke="#111" stroke-width="1.2"/>
<text x="230.60" y="406.10" font-size="10.8" font-weight="bold" text-anchor="start" fill="#111" stroke="#111" stroke-width="0.3" textLength="13.50" lengthAdjust="spacingAndGlyphs" >100</text>
<line x1="247.20" y1="449.00" x2="250.50" y2="449.00" stroke="#111" stroke-width="1.2"/>
<text x="239.00" y="452.50" font-size="10.8" font-weight="bold" text-anchor="start" fill="#111" stroke="#111" stroke-width="0.3" textLength="5.10" lengthAdjust="spacingAndGlyphs" >0</text>
<rect x="256.10" y="442.00" width="21.60" height="7.00" fill="#000" stroke="#000" stroke-width="1.0" />
<rect x="287.40" y="359.60" width="22.20" height="89.40" fill="#000" stroke="#000" stroke-width="1.0" />
<rect x="319.30" y="434.50" width="21.70" height="14.50" fill="#000" stroke="#000" stroke-width="1.0" />
<rect x="351.20" y="440.10" width="21.40" height="8.90" fill="#000" stroke="#000" stroke-width="1.0" />
<rect x="382.60" y="444.20" width="21.30" height="4.80" fill="#000" stroke="#000" stroke-width="1.0" />
<line x1="299.30" y1="332.70" x2="299.30" y2="360.00" stroke="#000" stroke-width="1.5"/>
<line x1="294.30" y1="332.70" x2="304.30" y2="332.70" stroke="#000" stroke-width="1.5"/>
<line x1="294.30" y1="360.00" x2="304.30" y2="360.00" stroke="#000" stroke-width="1.5"/>
<line x1="330.40" y1="429.00" x2="330.40" y2="435.00" stroke="#000" stroke-width="1.5"/>
<line x1="325.90" y1="429.00" x2="334.90" y2="429.00" stroke="#000" stroke-width="1.5"/>
<line x1="325.90" y1="435.00" x2="334.90" y2="435.00" stroke="#000" stroke-width="1.5"/>
<line x1="362.00" y1="439.30" x2="362.00" y2="440.50" stroke="#000" stroke-width="1.3"/>
<line x1="358.00" y1="439.30" x2="366.00" y2="439.30" stroke="#000" stroke-width="1.3"/>
<line x1="358.00" y1="440.50" x2="366.00" y2="440.50" stroke="#000" stroke-width="1.3"/>
<line x1="250.50" y1="449.00" x2="408.90" y2="449.00" stroke="#111" stroke-width="1.3"/>
<line x1="267.40" y1="449.00" x2="267.40" y2="452.00" stroke="#111" stroke-width="1.2"/>
<line x1="299.30" y1="449.00" x2="299.30" y2="452.00" stroke="#111" stroke-width="1.2"/>
<line x1="330.40" y1="449.00" x2="330.40" y2="452.00" stroke="#111" stroke-width="1.2"/>
<line x1="361.80" y1="449.00" x2="361.80" y2="452.00" stroke="#111" stroke-width="1.2"/>
<line x1="393.40" y1="449.00" x2="393.40" y2="452.00" stroke="#111" stroke-width="1.2"/>
<text x="295.40" y="329.70" font-size="12.941176470588236" font-weight="bold" text-anchor="start" fill="#111" textLength="6.40" lengthAdjust="spacingAndGlyphs" >#</text>
<polygon points="327.60,418.07 328.39,419.68 330.17,419.94 328.88,421.19 329.19,422.95 327.60,422.12 326.01,422.95 326.32,421.19 325.03,419.94 326.81,419.68" fill="#111" stroke="#111" stroke-width="0.35" stroke-linejoin="round"/>
<polygon points="333.30,418.07 334.09,419.68 335.87,419.94 334.58,421.19 334.89,422.95 333.30,422.12 331.71,422.95 332.02,421.19 330.73,419.94 332.51,419.68" fill="#111" stroke="#111" stroke-width="0.35" stroke-linejoin="round"/>
<polygon points="354.50,426.87 355.29,428.48 357.07,428.74 355.78,429.99 356.09,431.75 354.50,430.92 352.91,431.75 353.22,429.99 351.93,428.74 353.71,428.48" fill="#111" stroke="#111" stroke-width="0.35" stroke-linejoin="round"/>
<polygon points="360.90,426.87 361.69,428.48 363.47,428.74 362.18,429.99 362.49,431.75 360.90,430.92 359.31,431.75 359.62,429.99 358.33,428.74 360.11,428.48" fill="#111" stroke="#111" stroke-width="0.35" stroke-linejoin="round"/>
<polygon points="367.30,426.87 368.09,428.48 369.87,428.74 368.58,429.99 368.89,431.75 367.30,430.92 365.71,431.75 366.02,429.99 364.73,428.74 366.51,428.48" fill="#111" stroke="#111" stroke-width="0.35" stroke-linejoin="round"/>
<polygon points="388.35,433.67 389.14,435.28 390.92,435.54 389.63,436.79 389.94,438.55 388.35,437.72 386.76,438.55 387.07,436.79 385.78,435.54 387.56,435.28" fill="#111" stroke="#111" stroke-width="0.35" stroke-linejoin="round"/>
<polygon points="394.40,433.67 395.19,435.28 396.97,435.54 395.68,436.79 395.99,438.55 394.40,437.72 392.81,438.55 393.12,436.79 391.83,435.54 393.61,435.28" fill="#111" stroke="#111" stroke-width="0.35" stroke-linejoin="round"/>
<polygon points="400.45,433.67 401.24,435.28 403.02,435.54 401.73,436.79 402.04,438.55 400.45,437.72 398.86,438.55 399.17,436.79 397.88,435.54 399.66,435.28" fill="#111" stroke="#111" stroke-width="0.35" stroke-linejoin="round"/>
<text x="382.60" y="338.80" font-size="12.5" font-weight="bold" text-anchor="start" fill="#111" stroke="#111" stroke-width="0.3" textLength="22.20" lengthAdjust="spacingAndGlyphs" >IL-6</text>
<rect x="266.90" y="477.60" width="6.00" height="1.60" fill="#111" stroke="none" stroke-width="0" />
<rect x="297.50" y="477.10" width="6.00" height="1.60" fill="#111" stroke="none" stroke-width="0" />
<rect x="299.70" y="474.30" width="1.60" height="7.20" fill="#111" stroke="none" stroke-width="0" />
<rect x="330.50" y="477.10" width="6.00" height="1.60" fill="#111" stroke="none" stroke-width="0" />
<rect x="332.70" y="474.30" width="1.60" height="7.20" fill="#111" stroke="none" stroke-width="0" />
<rect x="359.10" y="477.10" width="6.00" height="1.60" fill="#111" stroke="none" stroke-width="0" />
<rect x="361.30" y="474.30" width="1.60" height="7.20" fill="#111" stroke="none" stroke-width="0" />
<rect x="391.80" y="477.10" width="6.00" height="1.60" fill="#111" stroke="none" stroke-width="0" />
<rect x="394.00" y="474.30" width="1.60" height="7.20" fill="#111" stroke="none" stroke-width="0" />
<rect x="266.90" y="495.10" width="6.00" height="1.60" fill="#111" stroke="none" stroke-width="0" />
<rect x="297.30" y="495.10" width="6.00" height="1.60" fill="#111" stroke="none" stroke-width="0" />
<text x="330.20" y="499.80" font-size="13.4" font-weight="bold" text-anchor="start" fill="#111" stroke="#111" stroke-width="0.3" textLength="5.40" lengthAdjust="spacingAndGlyphs" >1</text>
<text x="357.10" y="499.80" font-size="13.4" font-weight="bold" text-anchor="start" fill="#111" stroke="#111" stroke-width="0.3" textLength="13.10" lengthAdjust="spacingAndGlyphs" >10</text>
<text x="385.10" y="499.80" font-size="13.4" font-weight="bold" text-anchor="start" fill="#111" stroke="#111" stroke-width="0.3" textLength="20.10" lengthAdjust="spacingAndGlyphs" >100</text>
<text x="32.60" y="669.50" font-size="12.6" font-weight="bold" text-anchor="start" fill="#111" stroke="#111" stroke-width="0.3" textLength="142.00" lengthAdjust="spacingAndGlyphs" transform="rotate(-90 32.60 669.50)" >Concentration(pg/ml)</text>
<line x1="82.80" y1="530.70" x2="82.80" y2="667.10" stroke="#111" stroke-width="1.2"/>
<line x1="79.20" y1="530.70" x2="82.80" y2="530.70" stroke="#111" stroke-width="1.2"/>
<line x1="79.20" y1="576.10" x2="82.80" y2="576.10" stroke="#111" stroke-width="1.2"/>
<line x1="79.20" y1="621.80" x2="82.80" y2="621.80" stroke="#111" stroke-width="1.2"/>
<line x1="79.20" y1="667.10" x2="82.80" y2="667.10" stroke="#111" stroke-width="1.2"/>
<text x="44.10" y="533.70" font-size="10.0" font-weight="bold" text-anchor="start" fill="#111" stroke="#111" stroke-width="0.3" textLength="31.10" lengthAdjust="spacingAndGlyphs" >15,000</text>
<text x="44.10" y="579.30" font-size="10.0" font-weight="bold" text-anchor="start" fill="#111" stroke="#111" stroke-width="0.3" textLength="31.10" lengthAdjust="spacingAndGlyphs" >10,000</text>
<text x="56.20" y="624.80" font-size="8.3" font-weight="bold" text-anchor="start" fill="#1a1a1a" stroke="#1a1a1a" stroke-width="0.3" textLength="19.40" lengthAdjust="spacingAndGlyphs" >5000</text>
<text x="70.80" y="670.10" font-size="8.3" font-weight="bold" text-anchor="start" fill="#1a1a1a" stroke="#1a1a1a" stroke-width="0.3" textLength="4.80" lengthAdjust="spacingAndGlyphs" >0</text>
<rect x="88.10" y="665.60" width="17.10" height="1.50" fill="#fff" stroke="#111" stroke-width="1.3" />
<rect x="115.00" y="590.50" width="19.30" height="76.60" fill="#fff" stroke="#111" stroke-width="1.3" />
<rect x="143.50" y="640.50" width="19.10" height="26.60" fill="#fff" stroke="#111" stroke-width="1.3" />
<rect x="172.40" y="654.90" width="18.70" height="12.20" fill="#fff" stroke="#111" stroke-width="1.3" />
<rect x="200.30" y="661.00" width="19.00" height="6.10" fill="#fff" stroke="#111" stroke-width="1.3" />
<line x1="96.60" y1="665.00" x2="96.60" y2="666.20" stroke="#111" stroke-width="1.3"/>
<line x1="94.35" y1="665.00" x2="98.85" y2="665.00" stroke="#111" stroke-width="1.3"/>
<line x1="94.35" y1="666.20" x2="98.85" y2="666.20" stroke="#111" stroke-width="1.3"/>
<line x1="124.80" y1="536.90" x2="124.80" y2="644.20" stroke="#111" stroke-width="1.3"/>
<line x1="122.30" y1="536.90" x2="127.30" y2="536.90" stroke="#111" stroke-width="1.3"/>
<line x1="122.30" y1="644.20" x2="127.30" y2="644.20" stroke="#111" stroke-width="1.3"/>
<line x1="152.70" y1="625.80" x2="152.70" y2="654.90" stroke="#111" stroke-width="1.3"/>
<line x1="150.20" y1="625.80" x2="155.20" y2="625.80" stroke="#111" stroke-width="1.3"/>
<line x1="150.20" y1="654.90" x2="155.20" y2="654.90" stroke="#111" stroke-width="1.3"/>
<line x1="181.60" y1="650.30" x2="181.60" y2="659.50" stroke="#111" stroke-width="1.3"/>
<line x1="179.10" y1="650.30" x2="184.10" y2="650.30" stroke="#111" stroke-width="1.3"/>
<line x1="179.10" y1="659.50" x2="184.10" y2="659.50" stroke="#111" stroke-width="1.3"/>
<line x1="210.10" y1="658.00" x2="210.10" y2="664.10" stroke="#111" stroke-width="1.3"/>
<line x1="207.60" y1="658.00" x2="212.60" y2="658.00" stroke="#111" stroke-width="1.3"/>
<line x1="207.60" y1="664.10" x2="212.60" y2="664.10" stroke="#111" stroke-width="1.3"/>
<line x1="82.80" y1="667.10" x2="223.90" y2="667.10" stroke="#111" stroke-width="1.3"/>
<line x1="96.60" y1="667.10" x2="96.60" y2="670.20" stroke="#111" stroke-width="1.2"/>
<line x1="124.80" y1="667.10" x2="124.80" y2="670.20" stroke="#111" stroke-width="1.2"/>
<line x1="152.70" y1="667.10" x2="152.70" y2="670.20" stroke="#111" stroke-width="1.2"/>
<line x1="181.60" y1="667.10" x2="181.60" y2="670.20" stroke="#111" stroke-width="1.2"/>
<line x1="210.10" y1="667.10" x2="210.10" y2="670.20" stroke="#111" stroke-width="1.2"/>
<text x="117.70" y="532.20" font-size="14.411764705882353" font-weight="bold" text-anchor="start" fill="#111" textLength="7.80" lengthAdjust="spacingAndGlyphs" >#</text>
<text x="127.20" y="532.20" font-size="14.411764705882353" font-weight="bold" text-anchor="start" fill="#111" textLength="7.80" lengthAdjust="spacingAndGlyphs" >#</text>
<polygon points="210.70,642.22 211.64,644.13 213.74,644.43 212.22,645.91 212.58,648.01 210.70,647.02 208.82,648.01 209.18,645.91 207.66,644.43 209.76,644.13" fill="#111" stroke="#111" stroke-width="0.35" stroke-linejoin="round"/>
<text x="190.80" y="549.90" font-size="12.6" font-weight="bold" text-anchor="start" fill="#111" stroke="#111" stroke-width="0.3" textLength="22.90" lengthAdjust="spacingAndGlyphs" >IL-8</text>
<text x="7.10" y="691.80" font-size="10.3" font-weight="bold" text-anchor="start" fill="#111" stroke="#111" stroke-width="0.3" textLength="18.90" lengthAdjust="spacingAndGlyphs" >LPS</text>
<text x="32.40" y="691.80" font-size="10.3" font-weight="bold" text-anchor="start" fill="#111" stroke="#111" stroke-width="0.3" textLength="52.40" lengthAdjust="spacingAndGlyphs" >(100 ng/ml)</text>
<text x="7.10" y="705.70" font-size="10.3" font-weight="bold" text-anchor="start" fill="#111" stroke="#111" stroke-width="0.3" textLength="47.00" lengthAdjust="spacingAndGlyphs" >ADM (nM)</text>
<rect x="93.70" y="687.70" width="5.60" height="1.60" fill="#111" stroke="none" stroke-width="0" />
<rect x="121.40" y="687.30" width="5.20" height="1.60" fill="#111" stroke="none" stroke-width="0" />
<rect x="123.20" y="684.90" width="1.60" height="6.40" fill="#111" stroke="none" stroke-width="0" />
<rect x="150.00" y="687.30" width="5.20" height="1.60" fill="#111" stroke="none" stroke-width="0" />
<rect x="151.80" y="684.90" width="1.60" height="6.40" fill="#111" stroke="none" stroke-width="0" />
<rect x="177.30" y="687.30" width="5.20" height="1.60" fill="#111" stroke="none" stroke-width="0" />
<rect x="179.10" y="684.90" width="1.60" height="6.40" fill="#111" stroke="none" stroke-width="0" />
<rect x="207.70" y="687.30" width="5.20" height="1.60" fill="#111" stroke="none" stroke-width="0" />
<rect x="209.50" y="684.90" width="1.60" height="6.40" fill="#111" stroke="none" stroke-width="0" />
<rect x="93.70" y="704.20" width="5.60" height="1.60" fill="#111" stroke="none" stroke-width="0" />
<rect x="121.20" y="704.20" width="5.60" height="1.60" fill="#111" stroke="none" stroke-width="0" />
<text x="151.80" y="709.50" font-size="12.5" font-weight="bold" text-anchor="start" fill="#111" stroke="#111" stroke-width="0.3" textLength="4.90" lengthAdjust="spacingAndGlyphs" >1</text>
<text x="175.80" y="709.50" font-size="12.5" font-weight="bold" text-anchor="start" fill="#111" stroke="#111" stroke-width="0.3" textLength="12.10" lengthAdjust="spacingAndGlyphs" >10</text>
<text x="201.00" y="709.50" font-size="12.5" font-weight="bold" text-anchor="start" fill="#111" stroke="#111" stroke-width="0.3" textLength="19.10" lengthAdjust="spacingAndGlyphs" >100</text>
<line x1="251.20" y1="527.00" x2="251.20" y2="665.90" stroke="#111" stroke-width="1.2"/>
<line x1="247.20" y1="527.00" x2="251.20" y2="527.00" stroke="#111" stroke-width="1.2"/>
<text x="227.60" y="530.40" font-size="11.3" font-weight="bold" text-anchor="start" fill="#111" stroke="#111" stroke-width="0.3" textLength="15.80" lengthAdjust="spacingAndGlyphs" >800</text>
<line x1="247.20" y1="561.40" x2="251.20" y2="561.40" stroke="#111" stroke-width="1.2"/>
<text x="227.60" y="564.80" font-size="11.3" font-weight="bold" text-anchor="start" fill="#111" stroke="#111" stroke-width="0.3" textLength="15.80" lengthAdjust="spacingAndGlyphs" >600</text>
<line x1="247.20" y1="596.70" x2="251.20" y2="596.70" stroke="#111" stroke-width="1.2"/>
<text x="227.60" y="600.10" font-size="11.3" font-weight="bold" text-anchor="start" fill="#111" stroke="#111" stroke-width="0.3" textLength="15.80" lengthAdjust="spacingAndGlyphs" >400</text>
<line x1="247.20" y1="631.10" x2="251.20" y2="631.10" stroke="#111" stroke-width="1.2"/>
<text x="227.60" y="634.50" font-size="11.3" font-weight="bold" text-anchor="start" fill="#111" stroke="#111" stroke-width="0.3" textLength="15.80" lengthAdjust="spacingAndGlyphs" >200</text>
<line x1="247.20" y1="665.90" x2="251.20" y2="665.90" stroke="#111" stroke-width="1.2"/>
<text x="238.20" y="669.30" font-size="11.3" font-weight="bold" text-anchor="start" fill="#111" stroke="#111" stroke-width="0.3" textLength="5.20" lengthAdjust="spacingAndGlyphs" >0</text>
<rect x="256.90" y="651.10" width="21.60" height="14.80" fill="#000" stroke="#000" stroke-width="1.0" />
<rect x="289.00" y="576.20" width="22.30" height="89.70" fill="#000" stroke="#000" stroke-width="1.0" />
<rect x="321.80" y="632.30" width="21.90" height="33.60" fill="#000" stroke="#000" stroke-width="1.0" />
<rect x="354.50" y="636.80" width="21.90" height="29.10" fill="#000" stroke="#000" stroke-width="1.0" />
<rect x="386.40" y="643.10" width="22.20" height="22.80" fill="#000" stroke="#000" stroke-width="1.0" />
<line x1="300.40" y1="558.60" x2="300.40" y2="577.00" stroke="#000" stroke-width="1.5"/>
<line x1="295.40" y1="558.60" x2="305.40" y2="558.60" stroke="#000" stroke-width="1.5"/>
<line x1="295.40" y1="577.00" x2="305.40" y2="577.00" stroke="#000" stroke-width="1.5"/>
<line x1="332.60" y1="620.30" x2="332.60" y2="633.00" stroke="#000" stroke-width="1.5"/>
<line x1="327.60" y1="620.30" x2="337.60" y2="620.30" stroke="#000" stroke-width="1.5"/>
<line x1="327.60" y1="633.00" x2="337.60" y2="633.00" stroke="#000" stroke-width="1.5"/>
<line x1="365.10" y1="626.00" x2="365.10" y2="637.50" stroke="#000" stroke-width="1.5"/>
<line x1="360.10" y1="626.00" x2="370.10" y2="626.00" stroke="#000" stroke-width="1.5"/>
<line x1="360.10" y1="637.50" x2="370.10" y2="637.50" stroke="#000" stroke-width="1.5"/>
<line x1="397.20" y1="635.10" x2="397.20" y2="644.00" stroke="#000" stroke-width="1.5"/>
<line x1="392.20" y1="635.10" x2="402.20" y2="635.10" stroke="#000" stroke-width="1.5"/>
<line x1="392.20" y1="644.00" x2="402.20" y2="644.00" stroke="#000" stroke-width="1.5"/>
<line x1="251.20" y1="665.90" x2="414.30" y2="665.90" stroke="#111" stroke-width="1.3"/>
<line x1="267.70" y1="665.90" x2="267.70" y2="669.40" stroke="#111" stroke-width="1.2"/>
<line x1="300.40" y1="665.90" x2="300.40" y2="669.40" stroke="#111" stroke-width="1.2"/>
<line x1="332.60" y1="665.90" x2="332.60" y2="669.40" stroke="#111" stroke-width="1.2"/>
<line x1="365.10" y1="665.90" x2="365.10" y2="669.40" stroke="#111" stroke-width="1.2"/>
<line x1="397.20" y1="665.90" x2="397.20" y2="669.40" stroke="#111" stroke-width="1.2"/>
<text x="297.20" y="555.60" font-size="12.941176470588236" font-weight="bold" text-anchor="start" fill="#111" textLength="6.40" lengthAdjust="spacingAndGlyphs" >#</text>
<polygon points="332.60,609.19 333.45,610.92 335.36,611.19 333.98,612.54 334.30,614.44 332.60,613.54 330.90,614.44 331.22,612.54 329.84,611.19 331.75,610.92" fill="#111" stroke="#111" stroke-width="0.35" stroke-linejoin="round"/>
<polygon points="366.50,613.99 367.35,615.72 369.26,615.99 367.88,617.34 368.20,619.24 366.50,618.34 364.80,619.24 365.12,617.34 363.74,615.99 365.65,615.72" fill="#111" stroke="#111" stroke-width="0.35" stroke-linejoin="round"/>
<polygon points="394.20,624.79 395.05,626.52 396.96,626.79 395.58,628.14 395.90,630.04 394.20,629.14 392.50,630.04 392.82,628.14 391.44,626.79 393.35,626.52" fill="#111" stroke="#111" stroke-width="0.35" stroke-linejoin="round"/>
<polygon points="400.20,624.79 401.05,626.52 402.96,626.79 401.58,628.14 401.90,630.04 400.20,629.14 398.50,630.04 398.82,628.14 397.44,626.79 399.35,626.52" fill="#111" stroke="#111" stroke-width="0.35" stroke-linejoin="round"/>
<text x="382.40" y="548.60" font-size="12.0" font-weight="bold" text-anchor="start" fill="#111" stroke="#111" stroke-width="0.3" textLength="22.50" lengthAdjust="spacingAndGlyphs" >IL-8</text>
<rect x="266.90" y="690.20" width="6.00" height="1.60" fill="#111" stroke="none" stroke-width="0" />
<rect x="299.40" y="689.70" width="6.00" height="1.60" fill="#111" stroke="none" stroke-width="0" />
<rect x="301.60" y="686.90" width="1.60" height="7.20" fill="#111" stroke="none" stroke-width="0" />
<rect x="330.30" y="689.70" width="6.00" height="1.60" fill="#111" stroke="none" stroke-width="0" />
<rect x="332.50" y="686.90" width="1.60" height="7.20" fill="#111" stroke="none" stroke-width="0" />
<rect x="364.70" y="689.70" width="6.00" height="1.60" fill="#111" stroke="none" stroke-width="0" />
<rect x="366.90" y="686.90" width="1.60" height="7.20" fill="#111" stroke="none" stroke-width="0" />
<rect x="395.00" y="689.70" width="6.00" height="1.60" fill="#111" stroke="none" stroke-width="0" />
<rect x="397.20" y="686.90" width="1.60" height="7.20" fill="#111" stroke="none" stroke-width="0" />
<rect x="266.90" y="707.70" width="6.00" height="1.60" fill="#111" stroke="none" stroke-width="0" />
<rect x="298.90" y="707.70" width="6.00" height="1.60" fill="#111" stroke="none" stroke-width="0" />
<text x="330.20" y="712.00" font-size="13.0" font-weight="bold" text-anchor="start" fill="#111" stroke="#111" stroke-width="0.3" textLength="5.40" lengthAdjust="spacingAndGlyphs" >1</text>
<text x="360.60" y="712.00" font-size="13.0" font-weight="bold" text-anchor="start" fill="#111" stroke="#111" stroke-width="0.3" textLength="13.50" lengthAdjust="spacingAndGlyphs" >10</text>
<text x="387.00" y="712.00" font-size="13.0" font-weight="bold" text-anchor="start" fill="#111" stroke="#111" stroke-width="0.3" textLength="21.00" lengthAdjust="spacingAndGlyphs" >100</text>
<text x="429.30" y="281.60" font-size="14.5" font-weight="bold" text-anchor="start" fill="#000" stroke="#000" stroke-width="0.3" >d</text>
<text x="528.80" y="288.60" font-size="11" font-weight="bold" text-anchor="start" fill="#111" stroke="#111" stroke-width="0.3" textLength="36.30" lengthAdjust="spacingAndGlyphs" >Control</text>
<text x="530.40" y="303.10" font-size="11" font-weight="bold" text-anchor="start" fill="#111" stroke="#111" stroke-width="0.3" textLength="32.10" lengthAdjust="spacingAndGlyphs" >SiRNA</text>
<text x="586.10" y="288.60" font-size="11" font-weight="bold" text-anchor="start" fill="#111" stroke="#111" stroke-width="0.3" textLength="27.60" lengthAdjust="spacingAndGlyphs" >CRLR</text>
<text x="584.80" y="303.10" font-size="11" font-weight="bold" text-anchor="start" fill="#111" stroke="#111" stroke-width="0.3" textLength="31.50" lengthAdjust="spacingAndGlyphs" >SiRNA</text>
<text x="474.50" y="323.30" font-size="10.6" font-weight="bold" text-anchor="start" fill="#222" stroke="#222" stroke-width="0.3" textLength="35.40" lengthAdjust="spacingAndGlyphs" >CRLR</text>
<text x="469.20" y="343.80" font-size="10.6" font-weight="bold" text-anchor="start" fill="#222" stroke="#222" stroke-width="0.3" textLength="40.70" lengthAdjust="spacingAndGlyphs" >β-actin</text>
<rect x="519.10" y="309.10" width="111.20" height="22.20" fill="#cbcbcb" stroke="none" stroke-width="0" />
<rect x="519.10" y="334.40" width="111.20" height="22.60" fill="#c8c8c8" stroke="none" stroke-width="0" />
<g filter="url(#blur3)">
<rect x="527.00" y="316.60" width="40.00" height="8.40" fill="#222" stroke="none" stroke-width="0" rx="4"/>
<rect x="585.00" y="318.60" width="38.50" height="5.00" fill="#6a6a6a" stroke="none" stroke-width="0" rx="2.5"/>
</g>
<g filter="url(#blur2)">
<rect x="524.00" y="336.50" width="50.00" height="16.50" fill="#555" stroke="none" stroke-width="0" rx="8" fill-opacity="0.55"/>
<rect x="575.00" y="337.50" width="52.00" height="16.00" fill="#555" stroke="none" stroke-width="0" rx="8" fill-opacity="0.55"/>
<rect x="528.00" y="339.30" width="42.00" height="11.00" fill="#262626" stroke="none" stroke-width="0" rx="5.5"/>
<rect x="579.00" y="340.50" width="44.50" height="10.50" fill="#2a2a2a" stroke="none" stroke-width="0" rx="5"/>
</g>
<rect x="519.10" y="309.10" width="111.20" height="22.20" fill="none" stroke="#2a2a2a" stroke-width="1.1" />
<rect x="519.10" y="334.40" width="111.20" height="22.60" fill="none" stroke="#2a2a2a" stroke-width="1.1" />
<text x="456.70" y="514.80" font-size="13.2" font-weight="bold" text-anchor="start" fill="#111" stroke="#111" stroke-width="0.3" textLength="135.10" lengthAdjust="spacingAndGlyphs" transform="rotate(-90 456.70 514.80)" >Concentration(pg/ml)</text>
<line x1="497.40" y1="384.10" x2="497.40" y2="506.50" stroke="#111" stroke-width="1.1"/>
<line x1="493.40" y1="384.10" x2="497.40" y2="384.10" stroke="#111" stroke-width="1.1"/>
<text x="470.00" y="386.90" font-size="9.0" font-weight="bold" text-anchor="start" fill="#111" stroke="#111" stroke-width="0.3" textLength="19.20" lengthAdjust="spacingAndGlyphs" >2500</text>
<line x1="493.40" y1="408.50" x2="497.40" y2="408.50" stroke="#111" stroke-width="1.1"/>
<text x="470.00" y="411.30" font-size="9.0" font-weight="bold" text-anchor="start" fill="#111" stroke="#111" stroke-width="0.3" textLength="19.20" lengthAdjust="spacingAndGlyphs" >2000</text>
<line x1="493.40" y1="433.20" x2="497.40" y2="433.20" stroke="#111" stroke-width="1.1"/>
<text x="470.30" y="436.00" font-size="9.0" font-weight="bold" text-anchor="start" fill="#111" stroke="#111" stroke-width="0.3" textLength="18.90" lengthAdjust="spacingAndGlyphs" >1500</text>
<line x1="493.40" y1="457.70" x2="497.40" y2="457.70" stroke="#111" stroke-width="1.1"/>
<text x="470.30" y="460.50" font-size="9.0" font-weight="bold" text-anchor="start" fill="#111" stroke="#111" stroke-width="0.3" textLength="18.90" lengthAdjust="spacingAndGlyphs" >1000</text>
<line x1="493.40" y1="482.30" x2="497.40" y2="482.30" stroke="#111" stroke-width="1.1"/>
<text x="475.00" y="485.10" font-size="9.0" font-weight="bold" text-anchor="start" fill="#111" stroke="#111" stroke-width="0.3" textLength="14.20" lengthAdjust="spacingAndGlyphs" >500</text>
<line x1="493.40" y1="506.50" x2="497.40" y2="506.50" stroke="#111" stroke-width="1.1"/>
<text x="484.60" y="509.30" font-size="9.0" font-weight="bold" text-anchor="start" fill="#111" stroke="#111" stroke-width="0.3" textLength="4.60" lengthAdjust="spacingAndGlyphs" >0</text>
<rect x="505.80" y="479.20" width="20.30" height="27.30" fill="#fff" stroke="#111" stroke-width="1.1" />
<rect x="526.10" y="411.70" width="19.90" height="94.80" fill="#2b2b2b" stroke="#111" stroke-width="1.1" />
<rect x="546.00" y="467.30" width="19.20" height="39.20" fill="#a9a9a9" stroke="#111" stroke-width="1.1" />
<rect x="584.50" y="496.20" width="19.30" height="10.30" fill="#fff" stroke="#111" stroke-width="1.1" />
<rect x="603.80" y="464.70" width="19.90" height="41.80" fill="#2b2b2b" stroke="#111" stroke-width="1.1" />
<rect x="623.70" y="471.20" width="19.30" height="35.30" fill="#a9a9a9" stroke="#111" stroke-width="1.1" />
<line x1="517.10" y1="465.70" x2="517.10" y2="492.70" stroke="#111" stroke-width="1.2"/>
<line x1="514.60" y1="465.70" x2="519.60" y2="465.70" stroke="#111" stroke-width="1.2"/>
<line x1="514.60" y1="492.70" x2="519.60" y2="492.70" stroke="#111" stroke-width="1.2"/>
<line x1="535.70" y1="402.10" x2="535.70" y2="422.00" stroke="#111" stroke-width="1.2"/>
<line x1="533.20" y1="402.10" x2="538.20" y2="402.10" stroke="#111" stroke-width="1.2"/>
<line x1="533.20" y1="422.00" x2="538.20" y2="422.00" stroke="#111" stroke-width="1.2"/>
<line x1="555.60" y1="457.70" x2="555.60" y2="476.90" stroke="#111" stroke-width="1.2"/>
<line x1="553.10" y1="457.70" x2="558.10" y2="457.70" stroke="#111" stroke-width="1.2"/>
<line x1="553.10" y1="476.90" x2="558.10" y2="476.90" stroke="#111" stroke-width="1.2"/>
<line x1="594.10" y1="493.60" x2="594.10" y2="498.50" stroke="#111" stroke-width="1.2"/>
<line x1="591.60" y1="493.60" x2="596.60" y2="493.60" stroke="#111" stroke-width="1.2"/>
<line x1="591.60" y1="498.50" x2="596.60" y2="498.50" stroke="#111" stroke-width="1.2"/>
<line x1="613.40" y1="454.10" x2="613.40" y2="475.30" stroke="#111" stroke-width="1.2"/>
<line x1="610.90" y1="454.10" x2="615.90" y2="454.10" stroke="#111" stroke-width="1.2"/>
<line x1="610.90" y1="475.30" x2="615.90" y2="475.30" stroke="#111" stroke-width="1.2"/>
<line x1="633.30" y1="459.00" x2="633.30" y2="483.00" stroke="#111" stroke-width="1.2"/>
<line x1="630.80" y1="459.00" x2="635.80" y2="459.00" stroke="#111" stroke-width="1.2"/>
<line x1="630.80" y1="483.00" x2="635.80" y2="483.00" stroke="#111" stroke-width="1.2"/>
<line x1="497.40" y1="506.50" x2="652.70" y2="506.50" stroke="#111" stroke-width="1.2"/>
<line x1="536.00" y1="506.50" x2="536.00" y2="510.00" stroke="#111" stroke-width="1.1"/>
<line x1="613.80" y1="506.50" x2="613.80" y2="510.00" stroke="#111" stroke-width="1.1"/>
<text x="532.60" y="396.40" font-size="11.176470588235293" font-weight="bold" text-anchor="start" fill="#111" textLength="7.40" lengthAdjust="spacingAndGlyphs" >#</text>
<polygon points="555.60,445.82 556.54,447.73 558.64,448.03 557.12,449.51 557.48,451.61 555.60,450.62 553.72,451.61 554.08,449.51 552.56,448.03 554.66,447.73" fill="#111" stroke="#111" stroke-width="0.35" stroke-linejoin="round"/>
<text x="610.20" y="448.80" font-size="11.176470588235293" font-weight="bold" text-anchor="start" fill="#111" textLength="7.40" lengthAdjust="spacingAndGlyphs" >#</text>
<text x="560.40" y="386.10" font-size="12.5" font-weight="bold" text-anchor="start" fill="#111" stroke="#111" stroke-width="0.3" textLength="22.50" lengthAdjust="spacingAndGlyphs" >IL-6</text>
<rect x="602.20" y="387.90" width="15.40" height="7.20" fill="#fff" stroke="#111" stroke-width="1.4" rx="1.5"/>
<rect x="602.20" y="403.00" width="15.40" height="7.50" fill="#2b2b2b" stroke="#111" stroke-width="1.4" rx="1.5"/>
<rect x="602.20" y="418.40" width="15.40" height="7.80" fill="#b5b5b5" stroke="#111" stroke-width="1.4" rx="1.5"/>
<text x="625.90" y="394.70" font-size="10.5" font-weight="normal" text-anchor="start" fill="#111" stroke="#111" stroke-width="0.1" textLength="34.10" lengthAdjust="spacingAndGlyphs" >Control</text>
<text x="625.90" y="410.00" font-size="10.5" font-weight="normal" text-anchor="start" fill="#111" stroke="#111" stroke-width="0.1" textLength="19.70" lengthAdjust="spacingAndGlyphs" >LPS</text>
<text x="625.90" y="425.30" font-size="10.5" font-weight="normal" text-anchor="start" fill="#111" stroke="#111" stroke-width="0.1" textLength="49.90" lengthAdjust="spacingAndGlyphs" >LPS+ADM</text>
<text x="458.30" y="679.10" font-size="13.2" font-weight="bold" text-anchor="start" fill="#111" stroke="#111" stroke-width="0.3" textLength="143.90" lengthAdjust="spacingAndGlyphs" transform="rotate(-90 458.30 679.10)" >Concentration(pg/ml)</text>
<line x1="497.80" y1="543.50" x2="497.80" y2="672.30" stroke="#111" stroke-width="1.1"/>
<line x1="493.60" y1="543.50" x2="497.80" y2="543.50" stroke="#111" stroke-width="1.1"/>
<text x="470.30" y="546.30" font-size="9.0" font-weight="bold" text-anchor="start" fill="#111" stroke="#111" stroke-width="0.3" textLength="19.30" lengthAdjust="spacingAndGlyphs" >1000</text>
<line x1="493.60" y1="569.50" x2="497.80" y2="569.50" stroke="#111" stroke-width="1.1"/>
<text x="475.20" y="572.30" font-size="9.0" font-weight="bold" text-anchor="start" fill="#111" stroke="#111" stroke-width="0.3" textLength="14.40" lengthAdjust="spacingAndGlyphs" >800</text>
<line x1="493.60" y1="595.20" x2="497.80" y2="595.20" stroke="#111" stroke-width="1.1"/>
<text x="475.20" y="598.00" font-size="9.0" font-weight="bold" text-anchor="start" fill="#111" stroke="#111" stroke-width="0.3" textLength="14.40" lengthAdjust="spacingAndGlyphs" >600</text>
<line x1="493.60" y1="620.90" x2="497.80" y2="620.90" stroke="#111" stroke-width="1.1"/>
<text x="475.20" y="623.70" font-size="9.0" font-weight="bold" text-anchor="start" fill="#111" stroke="#111" stroke-width="0.3" textLength="14.40" lengthAdjust="spacingAndGlyphs" >400</text>
<line x1="493.60" y1="646.60" x2="497.80" y2="646.60" stroke="#111" stroke-width="1.1"/>
<text x="475.20" y="649.40" font-size="9.0" font-weight="bold" text-anchor="start" fill="#111" stroke="#111" stroke-width="0.3" textLength="14.40" lengthAdjust="spacingAndGlyphs" >200</text>
<line x1="493.60" y1="672.30" x2="497.80" y2="672.30" stroke="#111" stroke-width="1.1"/>
<text x="484.90" y="675.10" font-size="9.0" font-weight="bold" text-anchor="start" fill="#111" stroke="#111" stroke-width="0.3" textLength="4.70" lengthAdjust="spacingAndGlyphs" >0</text>
<rect x="505.80" y="642.40" width="20.30" height="29.90" fill="#fff" stroke="#111" stroke-width="1.1" />
<rect x="526.10" y="587.20" width="19.90" height="85.10" fill="#2b2b2b" stroke="#111" stroke-width="1.1" />
<rect x="546.00" y="632.10" width="19.20" height="40.20" fill="#a9a9a9" stroke="#111" stroke-width="1.1" />
<rect x="584.50" y="654.30" width="19.90" height="18.00" fill="#fff" stroke="#111" stroke-width="1.1" />
<rect x="604.40" y="639.20" width="19.30" height="33.10" fill="#2b2b2b" stroke="#111" stroke-width="1.1" />
<rect x="623.70" y="628.60" width="19.60" height="43.70" fill="#a9a9a9" stroke="#111" stroke-width="1.1" />
<line x1="516.10" y1="634.40" x2="516.10" y2="651.40" stroke="#111" stroke-width="1.2"/>
<line x1="513.60" y1="634.40" x2="518.60" y2="634.40" stroke="#111" stroke-width="1.2"/>
<line x1="513.60" y1="651.40" x2="518.60" y2="651.40" stroke="#111" stroke-width="1.2"/>
<line x1="535.70" y1="573.40" x2="535.70" y2="601.30" stroke="#111" stroke-width="1.2"/>
<line x1="533.20" y1="573.40" x2="538.20" y2="573.40" stroke="#111" stroke-width="1.2"/>
<line x1="533.20" y1="601.30" x2="538.20" y2="601.30" stroke="#111" stroke-width="1.2"/>
<line x1="554.60" y1="631.00" x2="554.60" y2="633.20" stroke="#111" stroke-width="1.2"/>
<line x1="552.10" y1="631.00" x2="557.10" y2="631.00" stroke="#111" stroke-width="1.2"/>
<line x1="552.10" y1="633.20" x2="557.10" y2="633.20" stroke="#111" stroke-width="1.2"/>
<line x1="594.10" y1="653.00" x2="594.10" y2="656.20" stroke="#111" stroke-width="1.2"/>
<line x1="591.60" y1="653.00" x2="596.60" y2="653.00" stroke="#111" stroke-width="1.2"/>
<line x1="591.60" y1="656.20" x2="596.60" y2="656.20" stroke="#111" stroke-width="1.2"/>
<line x1="614.40" y1="631.20" x2="614.40" y2="648.20" stroke="#111" stroke-width="1.2"/>
<line x1="611.90" y1="631.20" x2="616.90" y2="631.20" stroke="#111" stroke-width="1.2"/>
<line x1="611.90" y1="648.20" x2="616.90" y2="648.20" stroke="#111" stroke-width="1.2"/>
<line x1="633.60" y1="619.30" x2="633.60" y2="636.90" stroke="#111" stroke-width="1.2"/>
<line x1="631.10" y1="619.30" x2="636.10" y2="619.30" stroke="#111" stroke-width="1.2"/>
<line x1="631.10" y1="636.90" x2="636.10" y2="636.90" stroke="#111" stroke-width="1.2"/>
<line x1="497.80" y1="672.30" x2="653.50" y2="672.30" stroke="#111" stroke-width="1.2"/>
<line x1="535.70" y1="672.30" x2="535.70" y2="675.80" stroke="#111" stroke-width="1.1"/>
<line x1="614.40" y1="672.30" x2="614.40" y2="675.80" stroke="#111" stroke-width="1.1"/>
<text x="532.60" y="568.50" font-size="11.176470588235293" font-weight="bold" text-anchor="start" fill="#111" textLength="7.40" lengthAdjust="spacingAndGlyphs" >#</text>
<polygon points="555.60,614.82 556.54,616.73 558.64,617.03 557.12,618.51 557.48,620.61 555.60,619.62 553.72,620.61 554.08,618.51 552.56,617.03 554.66,616.73" fill="#111" stroke="#111" stroke-width="0.35" stroke-linejoin="round"/>
<text x="611.30" y="627.60" font-size="11.176470588235293" font-weight="bold" text-anchor="start" fill="#111" textLength="7.40" lengthAdjust="spacingAndGlyphs" >#</text>
<text x="561.40" y="548.30" font-size="12.5" font-weight="bold" text-anchor="start" fill="#111" stroke="#111" stroke-width="0.3" textLength="21.50" lengthAdjust="spacingAndGlyphs" >IL-8</text>
<text x="515.30" y="696.60" font-size="11.2" font-weight="bold" text-anchor="start" fill="#111" stroke="#111" stroke-width="0.3" textLength="43.30" lengthAdjust="spacingAndGlyphs" >Control</text>
<text x="519.10" y="711.00" font-size="11.2" font-weight="bold" text-anchor="start" fill="#111" stroke="#111" stroke-width="0.3" textLength="35.70" lengthAdjust="spacingAndGlyphs" >SiRNA</text>
<text x="601.50" y="696.60" font-size="11.2" font-weight="bold" text-anchor="start" fill="#111" stroke="#111" stroke-width="0.3" textLength="33.40" lengthAdjust="spacingAndGlyphs" >CRLR</text>
<text x="600.30" y="711.00" font-size="11.2" font-weight="bold" text-anchor="start" fill="#111" stroke="#111" stroke-width="0.3" textLength="36.10" lengthAdjust="spacingAndGlyphs" >SiRNA</text>
<text x="-0.80" y="742.70" font-size="16.5" font-weight="bold" text-anchor="start" fill="#000" stroke="#000" stroke-width="0.3" >e</text>
<text x="56.80" y="755.90" font-size="11.5" font-weight="bold" text-anchor="start" fill="#222" stroke="#222" stroke-width="0.3" textLength="27.60" lengthAdjust="spacingAndGlyphs" >IκB-α</text>
<text x="44.70" y="789.40" font-size="11.5" font-weight="bold" text-anchor="start" fill="#222" stroke="#222" stroke-width="0.3" textLength="39.20" lengthAdjust="spacingAndGlyphs" >p-IκB-α</text>
<text x="53.50" y="817.90" font-size="11.5" font-weight="bold" text-anchor="start" fill="#222" stroke="#222" stroke-width="0.3" textLength="29.80" lengthAdjust="spacingAndGlyphs" >p-p65</text>
<text x="54.30" y="845.60" font-size="11.5" font-weight="bold" text-anchor="start" fill="#222" stroke="#222" stroke-width="0.3" textLength="29.60" lengthAdjust="spacingAndGlyphs" >p-p50</text>
<text x="47.60" y="878.20" font-size="11.5" font-weight="bold" text-anchor="start" fill="#222" stroke="#222" stroke-width="0.3" textLength="36.30" lengthAdjust="spacingAndGlyphs" >β-actin</text>
<rect x="91.10" y="740.00" width="174.90" height="26.70" fill="#ebebeb" stroke="none" stroke-width="0" />
<rect x="91.10" y="771.00" width="174.90" height="24.30" fill="#ebebeb" stroke="none" stroke-width="0" />
<rect x="91.10" y="800.50" width="174.90" height="24.50" fill="#e8e8e8" stroke="none" stroke-width="0" />
<rect x="91.10" y="828.60" width="174.90" height="24.40" fill="#e9e9e9" stroke="none" stroke-width="0" />
<rect x="91.10" y="857.20" width="174.90" height="29.50" fill="#d6d6d6" stroke="none" stroke-width="0" />
<g filter="url(#blur2)">
<rect x="92.00" y="866.00" width="173.00" height="20.50" fill="#8a8a8a" stroke="none" stroke-width="0" fill-opacity="0.6"/>
<ellipse cx="112.50" cy="753.50" rx="16.50" ry="10.00" fill="#000" fill-opacity="0.55"/>
<ellipse cx="259.50" cy="875.50" rx="4.20" ry="8.00" fill="#111" fill-opacity="0.7"/>
</g>
<g filter="url(#blur3)">
<ellipse cx="112.00" cy="753.60" rx="13.00" ry="7.60" fill="#000" />
<rect x="143.00" y="750.00" width="14.00" height="3.40" fill="#3a3a3a" stroke="none" stroke-width="0" rx="1.70" fill-opacity="0.8"/>
<rect x="174.00" y="748.80" width="9.00" height="3.00" fill="#555" stroke="none" stroke-width="0" rx="1.50" fill-opacity="0.6"/>
<rect x="184.00" y="748.60" width="8.00" height="3.00" fill="#555" stroke="none" stroke-width="0" rx="1.50" fill-opacity="0.6"/>
<rect x="209.00" y="748.00" width="11.00" height="3.00" fill="#666" stroke="none" stroke-width="0" rx="1.50" fill-opacity="0.45"/>
<rect x="247.50" y="744.50" width="9.50" height="4.50" fill="#111" stroke="none" stroke-width="0" rx="2.25" fill-opacity="0.95"/>
<rect x="100.50" y="782.00" width="23.50" height="6.50" fill="#3a3a3a" stroke="none" stroke-width="0" rx="3.25" fill-opacity="1.0"/>
<rect x="101.00" y="783.00" width="11.00" height="5.50" fill="#2a2a2a" stroke="none" stroke-width="0" rx="2.75" fill-opacity="1.0"/>
<rect x="133.50" y="778.50" width="28.00" height="9.80" fill="#303030" stroke="none" stroke-width="0" rx="4.90" fill-opacity="1.0"/>
<rect x="167.00" y="780.20" width="11.00" height="4.80" fill="#333" stroke="none" stroke-width="0" rx="2.40" fill-opacity="0.85"/>
<rect x="179.00" y="780.00" width="11.50" height="5.00" fill="#333" stroke="none" stroke-width="0" rx="2.50" fill-opacity="0.85"/>
<rect x="200.00" y="779.50" width="18.00" height="5.30" fill="#444" stroke="none" stroke-width="0" rx="2.65" fill-opacity="0.75"/>
<rect x="216.00" y="778.50" width="11.00" height="6.70" fill="#1a1a1a" stroke="none" stroke-width="0" rx="3.35" fill-opacity="0.95"/>
<rect x="236.00" y="781.00" width="10.00" height="2.00" fill="#aaa" stroke="none" stroke-width="0" rx="1.00" fill-opacity="0.3"/>
<rect x="99.00" y="806.20" width="27.50" height="12.30" fill="#383838" stroke="none" stroke-width="0" rx="6.15" fill-opacity="1.0"/>
<rect x="132.00" y="805.00" width="31.00" height="13.70" fill="#333" stroke="none" stroke-width="0" rx="6.85" fill-opacity="1.0"/>
<rect x="167.00" y="807.60" width="25.00" height="7.20" fill="#333" stroke="none" stroke-width="0" rx="3.60" fill-opacity="1.0"/>
<rect x="201.00" y="808.20" width="27.00" height="6.60" fill="#3a3a3a" stroke="none" stroke-width="0" rx="3.30" fill-opacity="1.0"/>
<rect x="236.50" y="810.00" width="6.50" height="2.60" fill="#777" stroke="none" stroke-width="0" rx="1.30" fill-opacity="0.45"/>
<rect x="94.50" y="835.80" width="13.50" height="2.40" fill="#666" stroke="none" stroke-width="0" rx="1.20" fill-opacity="0.7"/>
<rect x="113.00" y="836.20" width="8.50" height="2.40" fill="#666" stroke="none" stroke-width="0" rx="1.20" fill-opacity="0.65"/>
<rect x="130.50" y="837.40" width="25.50" height="4.20" fill="#3a3a3a" stroke="none" stroke-width="0" rx="2.10" fill-opacity="0.85"/>
<rect x="134.00" y="843.00" width="20.00" height="8.00" fill="#999" stroke="none" stroke-width="0" rx="4.00" fill-opacity="0.35"/>
<rect x="165.00" y="838.80" width="24.00" height="4.00" fill="#444" stroke="none" stroke-width="0" rx="2.00" fill-opacity="0.8"/>
<rect x="170.00" y="845.00" width="18.00" height="3.00" fill="#aaa" stroke="none" stroke-width="0" rx="1.50" fill-opacity="0.35"/>
<rect x="201.00" y="839.80" width="8.00" height="3.00" fill="#555" stroke="none" stroke-width="0" rx="1.50" fill-opacity="0.65"/>
<rect x="217.00" y="840.00" width="8.00" height="3.00" fill="#777" stroke="none" stroke-width="0" rx="1.50" fill-opacity="0.55"/>
<rect x="235.50" y="840.50" width="7.00" height="3.50" fill="#333" stroke="none" stroke-width="0" rx="1.75" fill-opacity="0.85"/>
<rect x="252.50" y="840.80" width="4.50" height="2.20" fill="#999" stroke="none" stroke-width="0" rx="1.10" fill-opacity="0.5"/>
<rect x="92.50" y="867.50" width="28.50" height="13.30" fill="#161616" stroke="none" stroke-width="0" rx="6.65" fill-opacity="1.0"/>
<rect x="124.00" y="867.50" width="30.50" height="13.30" fill="#161616" stroke="none" stroke-width="0" rx="6.65" fill-opacity="1.0"/>
<rect x="157.80" y="866.20" width="30.70" height="13.30" fill="#161616" stroke="none" stroke-width="0" rx="6.65" fill-opacity="1.0"/>
<rect x="191.20" y="863.50" width="29.80" height="13.30" fill="#161616" stroke="none" stroke-width="0" rx="6.65" fill-opacity="1.0"/>
<rect x="224.00" y="862.20" width="28.50" height="13.30" fill="#161616" stroke="none" stroke-width="0" rx="6.65" fill-opacity="1.0"/>
</g>
<rect x="91.10" y="740.00" width="174.90" height="26.70" fill="none" stroke="#222" stroke-width="1.15" />
<rect x="91.10" y="771.00" width="174.90" height="24.30" fill="none" stroke="#222" stroke-width="1.15" />
<rect x="91.10" y="800.50" width="174.90" height="24.50" fill="none" stroke="#222" stroke-width="1.15" />
<rect x="91.10" y="828.60" width="174.90" height="24.40" fill="none" stroke="#222" stroke-width="1.15" />
<rect x="91.10" y="857.20" width="174.90" height="29.50" fill="none" stroke="#222" stroke-width="1.15" />
<text x="1.50" y="910.30" font-size="11.5" font-weight="bold" text-anchor="start" fill="#111" stroke="#111" stroke-width="0.3" textLength="21.30" lengthAdjust="spacingAndGlyphs" >LPS</text>
<text x="31.00" y="910.30" font-size="11.5" font-weight="bold" text-anchor="start" fill="#111" stroke="#111" stroke-width="0.3" textLength="59.00" lengthAdjust="spacingAndGlyphs" >(100 ng/ml)</text>
<text x="1.50" y="923.70" font-size="11.5" font-weight="bold" text-anchor="start" fill="#111" stroke="#111" stroke-width="0.3" textLength="53.20" lengthAdjust="spacingAndGlyphs" >ADM (nM)</text>
<rect x="103.10" y="905.30" width="5.60" height="1.60" fill="#111" stroke="none" stroke-width="0" />
<rect x="134.05" y="904.60" width="6.50" height="1.60" fill="#111" stroke="none" stroke-width="0" />
<rect x="136.50" y="902.15" width="1.60" height="6.50" fill="#111" stroke="none" stroke-width="0" />
<rect x="170.25" y="904.60" width="6.50" height="1.60" fill="#111" stroke="none" stroke-width="0" />
<rect x="172.70" y="902.15" width="1.60" height="6.50" fill="#111" stroke="none" stroke-width="0" />
<rect x="203.75" y="904.60" width="6.50" height="1.60" fill="#111" stroke="none" stroke-width="0" />
<rect x="206.20" y="902.15" width="1.60" height="6.50" fill="#111" stroke="none" stroke-width="0" />
<rect x="233.65" y="904.60" width="6.50" height="1.60" fill="#111" stroke="none" stroke-width="0" />
<rect x="236.10" y="902.15" width="1.60" height="6.50" fill="#111" stroke="none" stroke-width="0" />
<rect x="103.10" y="919.60" width="5.60" height="1.60" fill="#111" stroke="none" stroke-width="0" />
<rect x="133.60" y="919.60" width="5.60" height="1.60" fill="#111" stroke="none" stroke-width="0" />
<text x="171.50" y="923.30" font-size="10.5" font-weight="bold" text-anchor="start" fill="#111" stroke="#111" stroke-width="0.3" textLength="4.60" lengthAdjust="spacingAndGlyphs" >1</text>
<text x="201.60" y="923.30" font-size="10.5" font-weight="bold" text-anchor="start" fill="#111" stroke="#111" stroke-width="0.3" textLength="12.50" lengthAdjust="spacingAndGlyphs" >10</text>
<text x="231.10" y="923.30" font-size="10.5" font-weight="bold" text-anchor="start" fill="#111" stroke="#111" stroke-width="0.3" textLength="18.80" lengthAdjust="spacingAndGlyphs" >100</text>
<text x="281.30" y="847.50" font-size="10.3" font-weight="bold" text-anchor="start" fill="#111" stroke="#111" stroke-width="0.3" textLength="80.90" lengthAdjust="spacingAndGlyphs" transform="rotate(-90 281.30 847.50)" >P-IκB-α/IκB-α</text>
<line x1="307.20" y1="745.90" x2="307.20" y2="884.50" stroke="#111" stroke-width="1.1"/>
<line x1="304.00" y1="745.90" x2="307.20" y2="745.90" stroke="#111" stroke-width="1.1"/>
<text x="289.60" y="749.50" font-size="10.0" font-weight="bold" text-anchor="start" fill="#222" stroke="#222" stroke-width="0.3" textLength="10.60" lengthAdjust="spacingAndGlyphs" >2.0</text>
<line x1="304.00" y1="781.00" x2="307.20" y2="781.00" stroke="#111" stroke-width="1.1"/>
<text x="289.60" y="784.60" font-size="10.0" font-weight="bold" text-anchor="start" fill="#222" stroke="#222" stroke-width="0.3" textLength="10.60" lengthAdjust="spacingAndGlyphs" >1.5</text>
<line x1="304.00" y1="815.00" x2="307.20" y2="815.00" stroke="#111" stroke-width="1.1"/>
<text x="289.60" y="818.60" font-size="10.0" font-weight="bold" text-anchor="start" fill="#222" stroke="#222" stroke-width="0.3" textLength="10.60" lengthAdjust="spacingAndGlyphs" >1.0</text>
<line x1="304.00" y1="850.00" x2="307.20" y2="850.00" stroke="#111" stroke-width="1.1"/>
<text x="289.60" y="853.60" font-size="10.0" font-weight="bold" text-anchor="start" fill="#222" stroke="#222" stroke-width="0.3" textLength="10.60" lengthAdjust="spacingAndGlyphs" >0.5</text>
<line x1="304.00" y1="884.40" x2="307.20" y2="884.40" stroke="#111" stroke-width="1.1"/>
<text x="289.60" y="888.00" font-size="10.0" font-weight="bold" text-anchor="start" fill="#222" stroke="#222" stroke-width="0.3" textLength="10.60" lengthAdjust="spacingAndGlyphs" >0.0</text>
<rect x="309.10" y="871.70" width="20.90" height="12.80" fill="#9e9da2" stroke="#222" stroke-width="1.4" />
<rect x="336.90" y="779.70" width="20.50" height="104.80" fill="#9e9da2" stroke="#222" stroke-width="1.4" />
<rect x="363.30" y="815.50" width="20.90" height="69.00" fill="#9e9da2" stroke="#222" stroke-width="1.4" />
<rect x="390.10" y="828.80" width="20.40" height="55.70" fill="#9e9da2" stroke="#222" stroke-width="1.4" />
<rect x="416.40" y="857.10" width="20.90" height="27.40" fill="#9e9da2" stroke="#222" stroke-width="1.4" />
<line x1="320.30" y1="865.30" x2="320.30" y2="878.60" stroke="#222" stroke-width="1.2"/>
<line x1="317.80" y1="865.30" x2="322.80" y2="865.30" stroke="#222" stroke-width="1.2"/>
<line x1="317.80" y1="878.60" x2="322.80" y2="878.60" stroke="#222" stroke-width="1.2"/>
<line x1="346.60" y1="760.50" x2="346.60" y2="798.40" stroke="#222" stroke-width="1.2"/>
<line x1="344.10" y1="760.50" x2="349.10" y2="760.50" stroke="#222" stroke-width="1.2"/>
<line x1="344.10" y1="798.40" x2="349.10" y2="798.40" stroke="#222" stroke-width="1.2"/>
<line x1="374.00" y1="799.60" x2="374.00" y2="831.60" stroke="#222" stroke-width="1.2"/>
<line x1="371.50" y1="799.60" x2="376.50" y2="799.60" stroke="#222" stroke-width="1.2"/>
<line x1="371.50" y1="831.60" x2="376.50" y2="831.60" stroke="#222" stroke-width="1.2"/>
<line x1="400.30" y1="811.10" x2="400.30" y2="846.10" stroke="#222" stroke-width="1.2"/>
<line x1="397.80" y1="811.10" x2="402.80" y2="811.10" stroke="#222" stroke-width="1.2"/>
<line x1="397.80" y1="846.10" x2="402.80" y2="846.10" stroke="#222" stroke-width="1.2"/>
<line x1="427.60" y1="850.70" x2="427.60" y2="862.70" stroke="#222" stroke-width="1.2"/>
<line x1="425.10" y1="850.70" x2="430.10" y2="850.70" stroke="#222" stroke-width="1.2"/>
<line x1="425.10" y1="862.70" x2="430.10" y2="862.70" stroke="#222" stroke-width="1.2"/>
<line x1="307.20" y1="884.50" x2="439.10" y2="884.50" stroke="#111" stroke-width="1.2"/>
<line x1="320.30" y1="884.50" x2="320.30" y2="887.50" stroke="#111" stroke-width="1.1"/>
<line x1="346.60" y1="884.50" x2="346.60" y2="887.50" stroke="#111" stroke-width="1.1"/>
<line x1="374.00" y1="884.50" x2="374.00" y2="887.50" stroke="#111" stroke-width="1.1"/>
<line x1="400.30" y1="884.50" x2="400.30" y2="887.50" stroke="#111" stroke-width="1.1"/>
<line x1="427.60" y1="884.50" x2="427.60" y2="887.50" stroke="#111" stroke-width="1.1"/>
<text x="343.20" y="754.60" font-size="12.64705882352941" font-weight="bold" text-anchor="start" fill="#111" textLength="6.80" lengthAdjust="spacingAndGlyphs" >#</text>
<polygon points="428.40,837.10 429.28,838.89 431.25,839.17 429.83,840.56 430.16,842.53 428.40,841.60 426.64,842.53 426.97,840.56 425.55,839.17 427.52,838.89" fill="#111" stroke="#111" stroke-width="0.35" stroke-linejoin="round"/>
<rect x="316.65" y="905.15" width="6.30" height="1.50" fill="#111" stroke="none" stroke-width="0" />
<rect x="345.70" y="904.55" width="4.60" height="1.50" fill="#111" stroke="none" stroke-width="0" />
<rect x="347.25" y="902.50" width="1.50" height="5.60" fill="#111" stroke="none" stroke-width="0" />
<rect x="372.20" y="904.55" width="4.60" height="1.50" fill="#111" stroke="none" stroke-width="0" />
<rect x="373.75" y="902.50" width="1.50" height="5.60" fill="#111" stroke="none" stroke-width="0" />
<rect x="398.20" y="904.55" width="4.60" height="1.50" fill="#111" stroke="none" stroke-width="0" />
<rect x="399.75" y="902.50" width="1.50" height="5.60" fill="#111" stroke="none" stroke-width="0" />
<rect x="426.60" y="904.55" width="4.60" height="1.50" fill="#111" stroke="none" stroke-width="0" />
<rect x="428.15" y="902.50" width="1.50" height="5.60" fill="#111" stroke="none" stroke-width="0" />
<rect x="316.65" y="919.35" width="6.30" height="1.50" fill="#111" stroke="none" stroke-width="0" />
<rect x="345.95" y="919.35" width="6.30" height="1.50" fill="#111" stroke="none" stroke-width="0" />
<text x="372.60" y="923.40" font-size="10.5" font-weight="bold" text-anchor="start" fill="#111" stroke="#111" stroke-width="0.3" textLength="3.40" lengthAdjust="spacingAndGlyphs" >1</text>
<text x="396.40" y="923.40" font-size="10.5" font-weight="bold" text-anchor="start" fill="#111" stroke="#111" stroke-width="0.3" textLength="8.10" lengthAdjust="spacingAndGlyphs" >10</text>
<text x="422.00" y="923.40" font-size="10.5" font-weight="bold" text-anchor="start" fill="#111" stroke="#111" stroke-width="0.3" textLength="13.30" lengthAdjust="spacingAndGlyphs" >100</text>
<text x="460.30" y="879.00" font-size="13.5" font-weight="bold" text-anchor="start" fill="#111" stroke="#111" stroke-width="0.3" textLength="129.80" lengthAdjust="spacingAndGlyphs" transform="rotate(-90 460.30 879.00)" >Normalized intensity</text>
<line x1="495.30" y1="745.40" x2="495.30" y2="884.10" stroke="#111" stroke-width="1.1"/>
<line x1="491.20" y1="745.40" x2="495.30" y2="745.40" stroke="#111" stroke-width="1.1"/>
<text x="473.30" y="748.50" font-size="8.7" font-weight="bold" text-anchor="start" fill="#222" stroke="#222" stroke-width="0.3" textLength="13.40" lengthAdjust="spacingAndGlyphs" >0.5</text>
<line x1="491.20" y1="773.00" x2="495.30" y2="773.00" stroke="#111" stroke-width="1.1"/>
<text x="473.30" y="776.10" font-size="8.7" font-weight="bold" text-anchor="start" fill="#222" stroke="#222" stroke-width="0.3" textLength="13.40" lengthAdjust="spacingAndGlyphs" >0.4</text>
<line x1="491.20" y1="801.10" x2="495.30" y2="801.10" stroke="#111" stroke-width="1.1"/>
<text x="473.30" y="804.20" font-size="8.7" font-weight="bold" text-anchor="start" fill="#222" stroke="#222" stroke-width="0.3" textLength="13.40" lengthAdjust="spacingAndGlyphs" >0.3</text>
<line x1="491.20" y1="828.90" x2="495.30" y2="828.90" stroke="#111" stroke-width="1.1"/>
<text x="473.30" y="832.00" font-size="8.7" font-weight="bold" text-anchor="start" fill="#222" stroke="#222" stroke-width="0.3" textLength="13.40" lengthAdjust="spacingAndGlyphs" >0.2</text>
<line x1="491.20" y1="856.60" x2="495.30" y2="856.60" stroke="#111" stroke-width="1.1"/>
<text x="473.30" y="859.70" font-size="8.7" font-weight="bold" text-anchor="start" fill="#222" stroke="#222" stroke-width="0.3" textLength="13.40" lengthAdjust="spacingAndGlyphs" >0.1</text>
<line x1="491.20" y1="884.10" x2="495.30" y2="884.10" stroke="#111" stroke-width="1.1"/>
<text x="473.30" y="887.20" font-size="8.7" font-weight="bold" text-anchor="start" fill="#222" stroke="#222" stroke-width="0.3" textLength="13.40" lengthAdjust="spacingAndGlyphs" >0.0</text>
<rect x="502.00" y="839.50" width="11.30" height="44.60" fill="#5a5a5a" stroke="#111" stroke-width="1.1" />
<rect x="513.30" y="866.50" width="11.40" height="17.60" fill="#fff" stroke="#111" stroke-width="1.1" />
<line x1="507.90" y1="832.40" x2="507.90" y2="846.60" stroke="#111" stroke-width="1.2"/>
<line x1="506.10" y1="832.40" x2="509.70" y2="832.40" stroke="#111" stroke-width="1.2"/>
<line x1="506.10" y1="846.60" x2="509.70" y2="846.60" stroke="#111" stroke-width="1.2"/>
<line x1="518.50" y1="865.40" x2="518.50" y2="867.90" stroke="#111" stroke-width="1.2"/>
<line x1="516.70" y1="865.40" x2="520.30" y2="865.40" stroke="#111" stroke-width="1.2"/>
<line x1="516.70" y1="867.90" x2="520.30" y2="867.90" stroke="#111" stroke-width="1.2"/>
<rect x="540.40" y="790.50" width="10.80" height="93.60" fill="#5a5a5a" stroke="#111" stroke-width="1.1" />
<rect x="551.20" y="844.60" width="10.50" height="39.50" fill="#fff" stroke="#111" stroke-width="1.1" />
<line x1="546.10" y1="771.40" x2="546.10" y2="810.40" stroke="#111" stroke-width="1.2"/>
<line x1="544.30" y1="771.40" x2="547.90" y2="771.40" stroke="#111" stroke-width="1.2"/>
<line x1="544.30" y1="810.40" x2="547.90" y2="810.40" stroke="#111" stroke-width="1.2"/>
<line x1="556.30" y1="838.90" x2="556.30" y2="850.30" stroke="#111" stroke-width="1.2"/>
<line x1="554.50" y1="838.90" x2="558.10" y2="838.90" stroke="#111" stroke-width="1.2"/>
<line x1="554.50" y1="850.30" x2="558.10" y2="850.30" stroke="#111" stroke-width="1.2"/>
<rect x="578.20" y="812.70" width="10.90" height="71.40" fill="#5a5a5a" stroke="#111" stroke-width="1.1" />
<rect x="589.10" y="854.00" width="10.50" height="30.10" fill="#fff" stroke="#111" stroke-width="1.1" />
<line x1="583.10" y1="793.90" x2="583.10" y2="831.80" stroke="#111" stroke-width="1.2"/>
<line x1="581.30" y1="793.90" x2="584.90" y2="793.90" stroke="#111" stroke-width="1.2"/>
<line x1="581.30" y1="831.80" x2="584.90" y2="831.80" stroke="#111" stroke-width="1.2"/>
<line x1="593.90" y1="844.60" x2="593.90" y2="862.50" stroke="#111" stroke-width="1.2"/>
<line x1="592.10" y1="844.60" x2="595.70" y2="844.60" stroke="#111" stroke-width="1.2"/>
<line x1="592.10" y1="862.50" x2="595.70" y2="862.50" stroke="#111" stroke-width="1.2"/>
<rect x="615.80" y="819.50" width="10.80" height="64.60" fill="#5a5a5a" stroke="#111" stroke-width="1.1" />
<rect x="626.60" y="866.50" width="10.60" height="17.60" fill="#fff" stroke="#111" stroke-width="1.1" />
<line x1="620.90" y1="809.90" x2="620.90" y2="828.10" stroke="#111" stroke-width="1.2"/>
<line x1="619.10" y1="809.90" x2="622.70" y2="809.90" stroke="#111" stroke-width="1.2"/>
<line x1="619.10" y1="828.10" x2="622.70" y2="828.10" stroke="#111" stroke-width="1.2"/>
<line x1="631.50" y1="862.50" x2="631.50" y2="870.20" stroke="#111" stroke-width="1.2"/>
<line x1="629.70" y1="862.50" x2="633.30" y2="862.50" stroke="#111" stroke-width="1.2"/>
<line x1="629.70" y1="870.20" x2="633.30" y2="870.20" stroke="#111" stroke-width="1.2"/>
<rect x="653.70" y="844.00" width="10.50" height="40.10" fill="#5a5a5a" stroke="#111" stroke-width="1.1" />
<rect x="664.20" y="868.80" width="10.80" height="15.30" fill="#fff" stroke="#111" stroke-width="1.1" />
<line x1="659.40" y1="834.10" x2="659.40" y2="852.60" stroke="#111" stroke-width="1.2"/>
<line x1="657.60" y1="834.10" x2="661.20" y2="834.10" stroke="#111" stroke-width="1.2"/>
<line x1="657.60" y1="852.60" x2="661.20" y2="852.60" stroke="#111" stroke-width="1.2"/>
<line x1="669.30" y1="864.00" x2="669.30" y2="873.90" stroke="#111" stroke-width="1.2"/>
<line x1="667.50" y1="864.00" x2="671.10" y2="864.00" stroke="#111" stroke-width="1.2"/>
<line x1="667.50" y1="873.90" x2="671.10" y2="873.90" stroke="#111" stroke-width="1.2"/>
<line x1="495.30" y1="884.10" x2="683.60" y2="884.10" stroke="#111" stroke-width="1.2"/>
<line x1="513.30" y1="884.10" x2="513.30" y2="887.90" stroke="#111" stroke-width="1.1"/>
<line x1="551.20" y1="884.10" x2="551.20" y2="887.90" stroke="#111" stroke-width="1.1"/>
<line x1="589.10" y1="884.10" x2="589.10" y2="887.90" stroke="#111" stroke-width="1.1"/>
<line x1="626.60" y1="884.10" x2="626.60" y2="887.90" stroke="#111" stroke-width="1.1"/>
<line x1="664.20" y1="884.10" x2="664.20" y2="887.90" stroke="#111" stroke-width="1.1"/>
<text x="541.95" y="765.65" font-size="12.79411764705882" font-weight="bold" text-anchor="start" fill="#111" textLength="7.70" lengthAdjust="spacingAndGlyphs" >#</text>
<text x="553.35" y="832.15" font-size="12.205882352941178" font-weight="bold" text-anchor="start" fill="#111" textLength="7.30" lengthAdjust="spacingAndGlyphs" >#</text>
<polygon points="630.30,849.72 630.95,851.03 632.39,851.24 631.35,852.26 631.59,853.70 630.30,853.02 629.01,853.70 629.25,852.26 628.21,851.24 629.65,851.03" fill="#111" stroke="#111" stroke-width="0.35" stroke-linejoin="round"/>
<polygon points="656.50,823.16 657.26,824.71 658.97,824.96 657.74,826.16 658.03,827.86 656.50,827.06 654.97,827.86 655.26,826.16 654.03,824.96 655.74,824.71" fill="#111" stroke="#111" stroke-width="0.35" stroke-linejoin="round"/>
<polygon points="668.80,850.62 669.45,851.93 670.89,852.14 669.85,853.16 670.09,854.60 668.80,853.92 667.51,854.60 667.75,853.16 666.71,852.14 668.15,851.93" fill="#111" stroke="#111" stroke-width="0.35" stroke-linejoin="round"/>
<rect x="622.40" y="749.20" width="16.20" height="8.00" fill="#5a5a5a" stroke="#111" stroke-width="1.4" rx="1.5"/>
<rect x="622.40" y="764.90" width="16.20" height="8.00" fill="#fff" stroke="#111" stroke-width="1.4" rx="1.5"/>
<text x="646.60" y="757.00" font-size="10.5" font-weight="normal" text-anchor="start" fill="#111" stroke="#111" stroke-width="0.1" textLength="29.30" lengthAdjust="spacingAndGlyphs" >p-p65</text>
<text x="646.60" y="772.60" font-size="10.5" font-weight="normal" text-anchor="start" fill="#111" stroke="#111" stroke-width="0.1" textLength="29.30" lengthAdjust="spacingAndGlyphs" >p-p50</text>
<rect x="510.30" y="902.55" width="5.40" height="1.50" fill="#111" stroke="none" stroke-width="0" />
<rect x="545.90" y="901.75" width="5.40" height="1.50" fill="#111" stroke="none" stroke-width="0" />
<rect x="547.85" y="899.50" width="1.50" height="6.00" fill="#111" stroke="none" stroke-width="0" />
<rect x="585.10" y="901.75" width="5.40" height="1.50" fill="#111" stroke="none" stroke-width="0" />
<rect x="587.05" y="899.50" width="1.50" height="6.00" fill="#111" stroke="none" stroke-width="0" />
<rect x="621.50" y="901.75" width="5.40" height="1.50" fill="#111" stroke="none" stroke-width="0" />
<rect x="623.45" y="899.50" width="1.50" height="6.00" fill="#111" stroke="none" stroke-width="0" />
<rect x="658.00" y="901.75" width="5.40" height="1.50" fill="#111" stroke="none" stroke-width="0" />
<rect x="659.95" y="899.50" width="1.50" height="6.00" fill="#111" stroke="none" stroke-width="0" />
<rect x="510.30" y="917.95" width="5.40" height="1.50" fill="#111" stroke="none" stroke-width="0" />
<rect x="545.90" y="917.95" width="5.40" height="1.50" fill="#111" stroke="none" stroke-width="0" />
<text x="585.90" y="921.40" font-size="11.0" font-weight="bold" text-anchor="start" fill="#111" stroke="#111" stroke-width="0.3" textLength="3.80" lengthAdjust="spacingAndGlyphs" >1</text>
<text x="618.80" y="921.40" font-size="11.0" font-weight="bold" text-anchor="start" fill="#111" stroke="#111" stroke-width="0.3" textLength="11.40" lengthAdjust="spacingAndGlyphs" >10</text>
<text x="650.70" y="921.40" font-size="11.0" font-weight="bold" text-anchor="start" fill="#111" stroke="#111" stroke-width="0.3" textLength="18.90" lengthAdjust="spacingAndGlyphs" >100</text>
</svg>
</body></html>
